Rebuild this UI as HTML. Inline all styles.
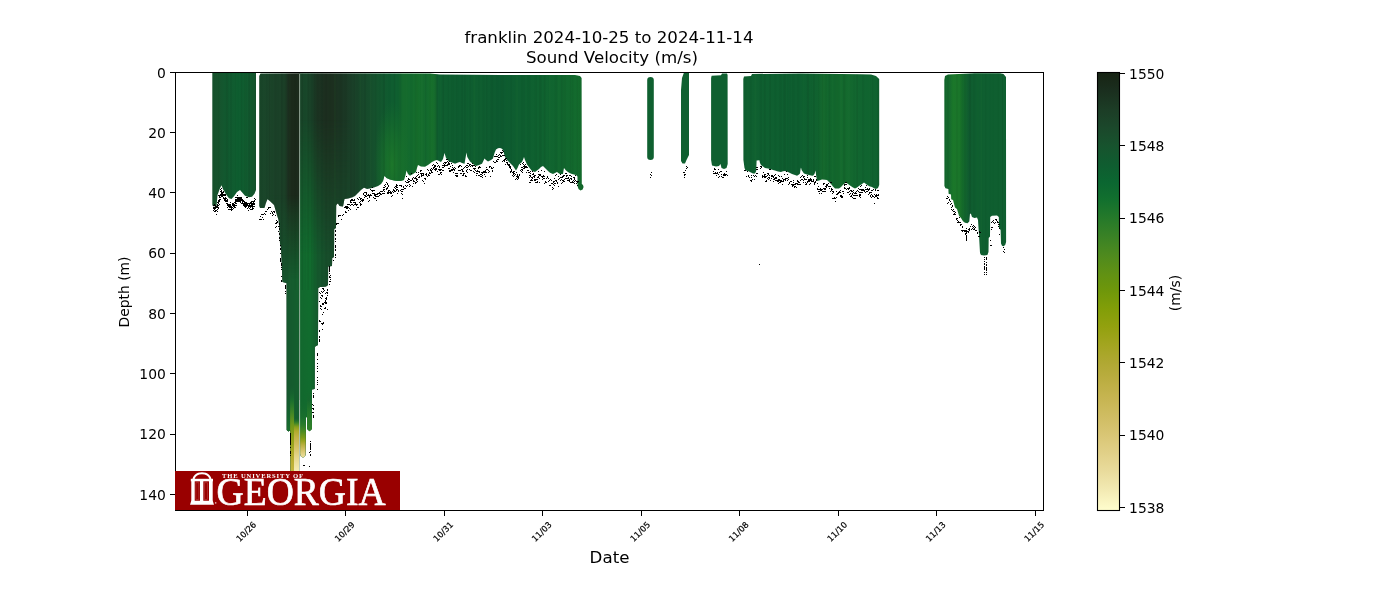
<!DOCTYPE html><html><head><meta charset="utf-8"><title>franklin Sound Velocity</title>
<style>html,body{margin:0;padding:0;background:#fff;}svg{display:block;}text{fill:#000;}</style></head><body>
<svg width="1400" height="600" viewBox="0 0 1400 600">
<defs><linearGradient id="gA" gradientUnits="userSpaceOnUse" x1="212" y1="0" x2="256" y2="0"><stop offset="0.0000" stop-color="#17522d"/><stop offset="0.1364" stop-color="#16532d"/><stop offset="0.2955" stop-color="#12582f"/><stop offset="0.5909" stop-color="#0e5e30"/><stop offset="0.8182" stop-color="#115a2f"/><stop offset="1.0000" stop-color="#15532d"/></linearGradient><linearGradient id="gB" gradientUnits="userSpaceOnUse" x1="259" y1="0" x2="582" y2="0"><stop offset="0.0000" stop-color="#19482a"/><stop offset="0.0341" stop-color="#1b4329"/><stop offset="0.0650" stop-color="#1b4128"/><stop offset="0.0805" stop-color="#1b3e26"/><stop offset="0.0867" stop-color="#1c3523"/><stop offset="0.0929" stop-color="#1b2b1d"/><stop offset="0.1022" stop-color="#1b291b"/><stop offset="0.1223" stop-color="#1b2a1c"/><stop offset="0.1285" stop-color="#194529"/><stop offset="0.1455" stop-color="#18482a"/><stop offset="0.1641" stop-color="#1a3f27"/><stop offset="0.1796" stop-color="#1b3422"/><stop offset="0.2043" stop-color="#1c2e1f"/><stop offset="0.2291" stop-color="#1c2f1f"/><stop offset="0.2446" stop-color="#1b3322"/><stop offset="0.2663" stop-color="#1b3825"/><stop offset="0.2879" stop-color="#1a3f28"/><stop offset="0.3127" stop-color="#18462a"/><stop offset="0.3437" stop-color="#164d2c"/><stop offset="0.3746" stop-color="#13562e"/><stop offset="0.4056" stop-color="#0f5c30"/><stop offset="0.4303" stop-color="#0f6030"/><stop offset="0.4458" stop-color="#156a2d"/><stop offset="0.4675" stop-color="#136a2e"/><stop offset="0.4923" stop-color="#166e2c"/><stop offset="0.5170" stop-color="#13692e"/><stop offset="0.5356" stop-color="#176f2c"/><stop offset="0.5464" stop-color="#15692d"/><stop offset="0.5526" stop-color="#0f5f30"/><stop offset="0.5666" stop-color="#0f5e30"/><stop offset="0.6223" stop-color="#0e5c30"/><stop offset="0.6842" stop-color="#0f5e30"/><stop offset="0.7461" stop-color="#0d5a30"/><stop offset="0.8080" stop-color="#0e5e30"/><stop offset="0.8700" stop-color="#0f6230"/><stop offset="0.9319" stop-color="#11662f"/><stop offset="1.0000" stop-color="#146c2d"/></linearGradient><linearGradient id="gC" gradientUnits="userSpaceOnUse" x1="743" y1="0" x2="879" y2="0"><stop offset="0.0000" stop-color="#0f6030"/><stop offset="0.4191" stop-color="#0e5e30"/><stop offset="0.5515" stop-color="#10622f"/><stop offset="0.5882" stop-color="#15692d"/><stop offset="0.6250" stop-color="#12672e"/><stop offset="0.7500" stop-color="#146a2e"/><stop offset="0.8603" stop-color="#116530"/><stop offset="1.0000" stop-color="#0f6230"/></linearGradient><linearGradient id="gD" gradientUnits="userSpaceOnUse" x1="944" y1="0" x2="1006" y2="0"><stop offset="0.0000" stop-color="#13682e"/><stop offset="0.0968" stop-color="#166c2d"/><stop offset="0.1452" stop-color="#1b772a"/><stop offset="0.2581" stop-color="#1a752a"/><stop offset="0.3226" stop-color="#13692d"/><stop offset="0.4032" stop-color="#0f5a2f"/><stop offset="0.4677" stop-color="#0f5e30"/><stop offset="1.0000" stop-color="#0f5f30"/></linearGradient><linearGradient id="gDeep" gradientUnits="userSpaceOnUse" x1="280" y1="0" x2="336" y2="0"><stop offset="0.0000" stop-color="#17502c"/><stop offset="0.1786" stop-color="#155a2e"/><stop offset="0.3393" stop-color="#14602e"/><stop offset="0.3661" stop-color="#12682e"/><stop offset="0.5357" stop-color="#116c2e"/><stop offset="0.6786" stop-color="#15582d"/><stop offset="0.8214" stop-color="#174e2b"/><stop offset="1.0000" stop-color="#184a2a"/></linearGradient><linearGradient id="mDeep" gradientUnits="userSpaceOnUse" x1="0" y1="150" x2="0" y2="480"><stop offset="0.0000" stop-color="#fff" stop-opacity="0"/><stop offset="0.1364" stop-color="#fff" stop-opacity="0.0"/><stop offset="0.1970" stop-color="#fff" stop-opacity="0.3"/><stop offset="0.3939" stop-color="#fff" stop-opacity="1"/><stop offset="1.0000" stop-color="#fff" stop-opacity="1"/></linearGradient><linearGradient id="mDeepR" gradientUnits="userSpaceOnUse" x1="0" y1="100" x2="0" y2="480"><stop offset="0.0000" stop-color="#fff" stop-opacity="0"/><stop offset="0.0526" stop-color="#fff" stop-opacity="0.0"/><stop offset="0.1579" stop-color="#fff" stop-opacity="0.3"/><stop offset="0.2632" stop-color="#fff" stop-opacity="0.6"/><stop offset="0.4079" stop-color="#fff" stop-opacity="1"/><stop offset="1.0000" stop-color="#fff" stop-opacity="1"/></linearGradient><mask id="mkDeepR" maskUnits="userSpaceOnUse" x="299.3" y="100" width="51" height="380"><rect x="299.3" y="100" width="51" height="380" fill="url(#mDeepR)"/></mask><mask id="mkDeep" maskUnits="userSpaceOnUse" x="270" y="140" width="80" height="340"><rect x="270" y="140" width="80" height="340" fill="url(#mDeep)"/></mask><radialGradient id="gPatch" gradientUnits="userSpaceOnUse" cx="392" cy="165" r="40" gradientTransform="translate(392 165) scale(0.45 1.6) translate(-392 -165)"><stop offset="0" stop-color="#1d782a" stop-opacity="0.95"/><stop offset="0.5" stop-color="#1a742b" stop-opacity="0.6"/><stop offset="1" stop-color="#17702c" stop-opacity="0"/></radialGradient><linearGradient id="gCB" gradientUnits="userSpaceOnUse" x1="0" y1="72" x2="0" y2="510"><stop offset="0.0000" stop-color="#172313"/><stop offset="0.0411" stop-color="#1a2e1e"/><stop offset="0.0868" stop-color="#1c3d26"/><stop offset="0.1279" stop-color="#1b482b"/><stop offset="0.1689" stop-color="#17532e"/><stop offset="0.2123" stop-color="#0f5d30"/><stop offset="0.2511" stop-color="#0b6631"/><stop offset="0.2922" stop-color="#12702e"/><stop offset="0.3333" stop-color="#25792a"/><stop offset="0.3767" stop-color="#3a8225"/><stop offset="0.4178" stop-color="#4e8a1e"/><stop offset="0.4589" stop-color="#609114"/><stop offset="0.5000" stop-color="#6f970a"/><stop offset="0.5411" stop-color="#829e08"/><stop offset="0.5822" stop-color="#93a10f"/><stop offset="0.6233" stop-color="#a3a520"/><stop offset="0.6644" stop-color="#b0a833"/><stop offset="0.7055" stop-color="#bcae42"/><stop offset="0.7466" stop-color="#c7b552"/><stop offset="0.7877" stop-color="#d0bd63"/><stop offset="0.8288" stop-color="#d9c675"/><stop offset="0.8699" stop-color="#e1d088"/><stop offset="0.9110" stop-color="#e9db9c"/><stop offset="0.9521" stop-color="#f2e9b2"/><stop offset="1.0000" stop-color="#fffdcd"/></linearGradient><linearGradient id="gS1" gradientUnits="userSpaceOnUse" x1="0" y1="385" x2="0" y2="472"><stop offset="0.0000" stop-color="#14602f" stop-opacity="0"/><stop offset="0.1724" stop-color="#1a6e2e"/><stop offset="0.2414" stop-color="#2a7a2a"/><stop offset="0.3161" stop-color="#3f8526"/><stop offset="0.3908" stop-color="#5a9020"/><stop offset="0.4598" stop-color="#70981a"/><stop offset="0.5287" stop-color="#7e9c18"/><stop offset="0.6034" stop-color="#8ea018"/><stop offset="0.6782" stop-color="#9aa41c"/><stop offset="0.7471" stop-color="#a8a824"/><stop offset="0.8161" stop-color="#b4ac2c"/><stop offset="0.8908" stop-color="#bcb034"/><stop offset="1.0000" stop-color="#c6b640"/></linearGradient><linearGradient id="gS2" gradientUnits="userSpaceOnUse" x1="0" y1="400" x2="0" y2="472"><stop offset="0.0000" stop-color="#12652f" stop-opacity="0"/><stop offset="0.2500" stop-color="#12652f" stop-opacity="0.2"/><stop offset="0.3194" stop-color="#3a8426"/><stop offset="0.3750" stop-color="#8aa01c"/><stop offset="0.4306" stop-color="#b0aa2c"/><stop offset="0.5208" stop-color="#c4b448"/><stop offset="0.6111" stop-color="#d0bc5c"/><stop offset="0.6944" stop-color="#dac870"/><stop offset="0.7778" stop-color="#e4d488"/><stop offset="0.8681" stop-color="#ecdf9c"/><stop offset="1.0000" stop-color="#f6edb6"/></linearGradient><linearGradient id="gS3" gradientUnits="userSpaceOnUse" x1="0" y1="400" x2="0" y2="458"><stop offset="0.0000" stop-color="#14682e" stop-opacity="0"/><stop offset="0.3103" stop-color="#1a702d"/><stop offset="0.4310" stop-color="#2a7c2a"/><stop offset="0.5345" stop-color="#4a8a22"/><stop offset="0.6466" stop-color="#7a9a18"/><stop offset="0.7069" stop-color="#9aa41e"/><stop offset="0.7759" stop-color="#bab040"/><stop offset="0.8621" stop-color="#d4c268"/><stop offset="0.9310" stop-color="#e4d488"/><stop offset="1.0000" stop-color="#ecdf9c"/></linearGradient><linearGradient id="gS4" gradientUnits="userSpaceOnUse" x1="0" y1="390" x2="0" y2="432"><stop offset="0.0000" stop-color="#15682e" stop-opacity="0"/><stop offset="0.2381" stop-color="#15682e"/><stop offset="0.5238" stop-color="#22782b"/><stop offset="0.8333" stop-color="#2e7f29"/><stop offset="1.0000" stop-color="#34832a"/></linearGradient><linearGradient id="gS0" gradientUnits="userSpaceOnUse" x1="0" y1="395" x2="0" y2="432"><stop offset="0.0000" stop-color="#14602f" stop-opacity="0"/><stop offset="0.6216" stop-color="#14652e"/><stop offset="0.9730" stop-color="#1a6e2d"/></linearGradient><clipPath id="cpB"><path d="M259.2 76.0 L260.5 73.6 L300.0 73.3 L430.0 73.6 L440.0 74.5 L500.0 75.0 L575.0 75.0 L580.0 76.0 L581.6 78.0 L581.8 184.0 L583.0 185.0 L583.6 187.0 L582.6 189.4 L580.5 190.6 L578.5 189.0 L577.5 186.0 L577.5 176.5 L576.0 175.0 L574.0 174.6 L572.0 174.0 L570.0 173.3 L568.0 172.0 L566.0 170.5 L564.0 168.0 L563.6 170.0 L563.0 174.0 L560.0 174.0 L559.0 173.5 L557.0 172.0 L555.0 173.0 L553.0 174.0 L550.0 172.7 L548.0 171.0 L546.0 169.0 L545.0 168.0 L543.0 166.0 L541.0 167.0 L539.0 169.0 L537.0 170.5 L535.0 172.0 L532.0 171.0 L530.0 168.5 L527.0 164.5 L525.0 160.0 L524.0 157.0 L523.3 159.0 L522.0 162.0 L519.0 164.5 L517.5 168.0 L516.0 170.5 L513.0 166.0 L511.0 164.0 L509.0 162.0 L507.0 160.0 L505.0 157.0 L503.0 150.0 L502.0 148.8 L500.0 148.0 L498.0 148.3 L496.0 149.5 L494.5 153.0 L493.0 158.5 L491.0 160.0 L488.0 161.5 L486.0 160.0 L484.5 158.5 L482.0 163.7 L479.0 165.0 L476.0 166.0 L473.0 164.0 L470.0 161.5 L467.3 157.0 L466.4 152.5 L465.7 157.0 L464.5 163.7 L462.0 163.0 L460.0 162.0 L458.0 162.5 L455.0 163.7 L452.0 162.5 L449.0 161.5 L446.0 158.0 L444.5 153.0 L443.0 159.0 L441.0 162.0 L439.0 161.0 L437.0 160.0 L435.0 160.5 L432.0 162.0 L428.0 165.0 L425.0 166.7 L421.0 166.5 L418.0 165.0 L417.0 168.0 L416.0 172.0 L413.0 174.0 L410.0 175.7 L408.0 174.0 L406.5 170.5 L405.5 175.0 L404.0 180.0 L401.0 181.0 L397.0 181.0 L394.0 180.5 L390.0 179.5 L386.5 178.0 L384.5 175.7 L383.0 181.0 L381.0 184.0 L378.0 186.0 L374.0 187.5 L370.0 188.5 L367.0 189.0 L364.0 187.8 L361.0 190.0 L358.0 193.0 L355.0 196.0 L352.0 197.5 L348.0 198.5 L344.5 199.0 L343.0 206.5 L339.5 206.0 L338.0 203.5 L337.0 204.0 L336.2 205.5 L336.0 228.0 L334.2 229.0 L334.0 257.0 L332.2 258.0 L332.0 266.0 L328.2 266.5 L328.0 285.0 L326.0 286.5 L320.0 287.0 L318.2 288.0 L318.0 345.0 L316.0 346.0 L314.8 347.0 L314.7 389.0 L312.0 389.5 L311.9 429.0 L309.5 431.3 L307.2 429.0 L307.0 417.0 L305.9 417.5 L305.7 454.0 L305.0 456.5 L303.0 457.6 L301.0 456.5 L300.2 454.0 L300.0 400.0 L299.3 400.0 L299.2 472.0 L290.4 472.0 L290.3 430.0 L288.5 431.5 L286.7 430.0 L286.6 283.0 L282.5 282.0 L281.0 248.0 L280.0 244.0 L279.5 230.0 L278.5 220.0 L276.0 212.0 L274.0 205.0 L270.0 201.3 L267.5 199.2 L266.0 203.0 L264.5 208.0 L260.0 208.0 L259.2 206.0Z"/></clipPath><clipPath id="cpAll"><path d="M212.3 72.6 L256.0 72.6 L256.0 190.0 L254.5 193.7 L252.0 196.7 L249.0 197.3 L245.0 195.7 L242.0 192.3 L240.0 190.0 L237.0 192.0 L234.0 196.3 L231.5 199.0 L229.0 198.3 L226.0 194.3 L223.0 189.3 L221.5 185.3 L220.0 188.3 L217.5 195.0 L216.5 206.3 L213.0 206.3 L212.3 205.0Z M259.2 76.0 L260.5 73.6 L300.0 73.3 L430.0 73.6 L440.0 74.5 L500.0 75.0 L575.0 75.0 L580.0 76.0 L581.6 78.0 L581.8 184.0 L583.0 185.0 L583.6 187.0 L582.6 189.4 L580.5 190.6 L578.5 189.0 L577.5 186.0 L577.5 176.5 L576.0 175.0 L574.0 174.6 L572.0 174.0 L570.0 173.3 L568.0 172.0 L566.0 170.5 L564.0 168.0 L563.6 170.0 L563.0 174.0 L560.0 174.0 L559.0 173.5 L557.0 172.0 L555.0 173.0 L553.0 174.0 L550.0 172.7 L548.0 171.0 L546.0 169.0 L545.0 168.0 L543.0 166.0 L541.0 167.0 L539.0 169.0 L537.0 170.5 L535.0 172.0 L532.0 171.0 L530.0 168.5 L527.0 164.5 L525.0 160.0 L524.0 157.0 L523.3 159.0 L522.0 162.0 L519.0 164.5 L517.5 168.0 L516.0 170.5 L513.0 166.0 L511.0 164.0 L509.0 162.0 L507.0 160.0 L505.0 157.0 L503.0 150.0 L502.0 148.8 L500.0 148.0 L498.0 148.3 L496.0 149.5 L494.5 153.0 L493.0 158.5 L491.0 160.0 L488.0 161.5 L486.0 160.0 L484.5 158.5 L482.0 163.7 L479.0 165.0 L476.0 166.0 L473.0 164.0 L470.0 161.5 L467.3 157.0 L466.4 152.5 L465.7 157.0 L464.5 163.7 L462.0 163.0 L460.0 162.0 L458.0 162.5 L455.0 163.7 L452.0 162.5 L449.0 161.5 L446.0 158.0 L444.5 153.0 L443.0 159.0 L441.0 162.0 L439.0 161.0 L437.0 160.0 L435.0 160.5 L432.0 162.0 L428.0 165.0 L425.0 166.7 L421.0 166.5 L418.0 165.0 L417.0 168.0 L416.0 172.0 L413.0 174.0 L410.0 175.7 L408.0 174.0 L406.5 170.5 L405.5 175.0 L404.0 180.0 L401.0 181.0 L397.0 181.0 L394.0 180.5 L390.0 179.5 L386.5 178.0 L384.5 175.7 L383.0 181.0 L381.0 184.0 L378.0 186.0 L374.0 187.5 L370.0 188.5 L367.0 189.0 L364.0 187.8 L361.0 190.0 L358.0 193.0 L355.0 196.0 L352.0 197.5 L348.0 198.5 L344.5 199.0 L343.0 206.5 L339.5 206.0 L338.0 203.5 L337.0 204.0 L336.2 205.5 L336.0 228.0 L334.2 229.0 L334.0 257.0 L332.2 258.0 L332.0 266.0 L328.2 266.5 L328.0 285.0 L326.0 286.5 L320.0 287.0 L318.2 288.0 L318.0 345.0 L316.0 346.0 L314.8 347.0 L314.7 389.0 L312.0 389.5 L311.9 429.0 L309.5 431.3 L307.2 429.0 L307.0 417.0 L305.9 417.5 L305.7 454.0 L305.0 456.5 L303.0 457.6 L301.0 456.5 L300.2 454.0 L300.0 400.0 L299.3 400.0 L299.2 472.0 L290.4 472.0 L290.3 430.0 L288.5 431.5 L286.7 430.0 L286.6 283.0 L282.5 282.0 L281.0 248.0 L280.0 244.0 L279.5 230.0 L278.5 220.0 L276.0 212.0 L274.0 205.0 L270.0 201.3 L267.5 199.2 L266.0 203.0 L264.5 208.0 L260.0 208.0 L259.2 206.0Z M743.3 79.0 L744.0 76.5 L751.0 76.0 L752.0 74.0 L800.0 73.4 L860.0 74.2 L871.0 74.6 L876.0 76.0 L879.2 79.0 L879.2 185.0 L878.0 188.0 L876.0 189.0 L874.0 188.2 L872.0 187.0 L870.0 186.5 L868.0 185.5 L866.0 184.0 L864.0 182.5 L862.0 184.0 L859.0 186.0 L857.0 187.5 L855.0 188.5 L853.0 187.5 L850.0 185.5 L848.0 184.0 L846.0 182.5 L843.0 184.7 L841.0 187.0 L839.0 188.5 L835.0 188.5 L833.0 186.5 L831.0 184.0 L829.0 182.0 L827.0 180.0 L825.0 179.7 L822.0 179.5 L819.0 180.5 L817.0 181.0 L816.2 176.0 L815.5 170.5 L814.5 174.0 L813.0 175.7 L811.0 175.5 L809.0 175.0 L807.0 174.5 L804.0 173.5 L801.6 170.0 L801.0 167.5 L800.6 169.0 L800.0 173.5 L799.0 174.5 L797.0 175.7 L795.0 175.0 L792.0 174.0 L790.0 173.0 L788.0 172.0 L785.0 171.0 L783.0 171.3 L781.0 172.0 L778.0 171.5 L775.0 170.5 L773.0 170.0 L770.0 169.0 L768.0 168.5 L765.0 168.0 L763.0 166.5 L761.0 165.0 L760.0 163.0 L759.4 160.3 L756.6 160.5 L756.2 171.0 L755.0 173.5 L753.0 173.5 L751.0 172.5 L748.0 171.0 L745.5 170.5 L744.5 168.0 L743.4 160.0Z M944.3 80.0 L945.0 76.0 L948.0 74.6 L975.0 73.2 L1000.0 73.2 L1003.5 74.0 L1006.0 77.0 L1006.1 242.0 L1005.2 245.0 L1003.5 246.2 L1002.0 245.8 L1001.0 243.5 L1000.6 230.0 L999.0 228.0 L998.8 217.0 L997.0 215.5 L992.0 215.8 L990.2 217.0 L990.0 236.5 L988.7 238.0 L988.5 252.0 L987.4 255.0 L984.0 255.6 L981.0 255.0 L980.0 253.0 L979.0 235.0 L978.0 220.0 L977.0 217.5 L974.5 217.9 L972.0 217.0 L971.0 214.0 L970.0 213.5 L969.3 221.5 L967.5 223.2 L965.0 222.7 L963.0 221.3 L961.0 218.0 L959.0 215.8 L957.0 209.0 L955.0 207.6 L953.0 200.0 L951.2 199.3 L951.0 194.5 L948.6 193.8 L948.4 189.0 L945.5 188.3 L944.4 186.0Z"/></clipPath><clipPath id="cpAx"><rect x="175.5" y="72.5" width="868" height="438"/></clipPath></defs>
<rect width="1400" height="600" fill="#fff"/>
<g clip-path="url(#cpAx)">
<path d="M212.3 72.6 L256.0 72.6 L256.0 190.0 L254.5 193.7 L252.0 196.7 L249.0 197.3 L245.0 195.7 L242.0 192.3 L240.0 190.0 L237.0 192.0 L234.0 196.3 L231.5 199.0 L229.0 198.3 L226.0 194.3 L223.0 189.3 L221.5 185.3 L220.0 188.3 L217.5 195.0 L216.5 206.3 L213.0 206.3 L212.3 205.0Z" fill="url(#gA)"/>
<path d="M259.2 76.0 L260.5 73.6 L300.0 73.3 L430.0 73.6 L440.0 74.5 L500.0 75.0 L575.0 75.0 L580.0 76.0 L581.6 78.0 L581.8 184.0 L583.0 185.0 L583.6 187.0 L582.6 189.4 L580.5 190.6 L578.5 189.0 L577.5 186.0 L577.5 176.5 L576.0 175.0 L574.0 174.6 L572.0 174.0 L570.0 173.3 L568.0 172.0 L566.0 170.5 L564.0 168.0 L563.6 170.0 L563.0 174.0 L560.0 174.0 L559.0 173.5 L557.0 172.0 L555.0 173.0 L553.0 174.0 L550.0 172.7 L548.0 171.0 L546.0 169.0 L545.0 168.0 L543.0 166.0 L541.0 167.0 L539.0 169.0 L537.0 170.5 L535.0 172.0 L532.0 171.0 L530.0 168.5 L527.0 164.5 L525.0 160.0 L524.0 157.0 L523.3 159.0 L522.0 162.0 L519.0 164.5 L517.5 168.0 L516.0 170.5 L513.0 166.0 L511.0 164.0 L509.0 162.0 L507.0 160.0 L505.0 157.0 L503.0 150.0 L502.0 148.8 L500.0 148.0 L498.0 148.3 L496.0 149.5 L494.5 153.0 L493.0 158.5 L491.0 160.0 L488.0 161.5 L486.0 160.0 L484.5 158.5 L482.0 163.7 L479.0 165.0 L476.0 166.0 L473.0 164.0 L470.0 161.5 L467.3 157.0 L466.4 152.5 L465.7 157.0 L464.5 163.7 L462.0 163.0 L460.0 162.0 L458.0 162.5 L455.0 163.7 L452.0 162.5 L449.0 161.5 L446.0 158.0 L444.5 153.0 L443.0 159.0 L441.0 162.0 L439.0 161.0 L437.0 160.0 L435.0 160.5 L432.0 162.0 L428.0 165.0 L425.0 166.7 L421.0 166.5 L418.0 165.0 L417.0 168.0 L416.0 172.0 L413.0 174.0 L410.0 175.7 L408.0 174.0 L406.5 170.5 L405.5 175.0 L404.0 180.0 L401.0 181.0 L397.0 181.0 L394.0 180.5 L390.0 179.5 L386.5 178.0 L384.5 175.7 L383.0 181.0 L381.0 184.0 L378.0 186.0 L374.0 187.5 L370.0 188.5 L367.0 189.0 L364.0 187.8 L361.0 190.0 L358.0 193.0 L355.0 196.0 L352.0 197.5 L348.0 198.5 L344.5 199.0 L343.0 206.5 L339.5 206.0 L338.0 203.5 L337.0 204.0 L336.2 205.5 L336.0 228.0 L334.2 229.0 L334.0 257.0 L332.2 258.0 L332.0 266.0 L328.2 266.5 L328.0 285.0 L326.0 286.5 L320.0 287.0 L318.2 288.0 L318.0 345.0 L316.0 346.0 L314.8 347.0 L314.7 389.0 L312.0 389.5 L311.9 429.0 L309.5 431.3 L307.2 429.0 L307.0 417.0 L305.9 417.5 L305.7 454.0 L305.0 456.5 L303.0 457.6 L301.0 456.5 L300.2 454.0 L300.0 400.0 L299.3 400.0 L299.2 472.0 L290.4 472.0 L290.3 430.0 L288.5 431.5 L286.7 430.0 L286.6 283.0 L282.5 282.0 L281.0 248.0 L280.0 244.0 L279.5 230.0 L278.5 220.0 L276.0 212.0 L274.0 205.0 L270.0 201.3 L267.5 199.2 L266.0 203.0 L264.5 208.0 L260.0 208.0 L259.2 206.0Z" fill="url(#gB)"/>
<g clip-path="url(#cpB)">
<rect x="270" y="140" width="29.3" height="340" fill="url(#gDeep)" mask="url(#mkDeep)"/>
<rect x="299.3" y="100" width="51" height="380" fill="url(#gDeep)" mask="url(#mkDeepR)"/>
<rect x="350" y="90" width="90" height="110" fill="url(#gPatch)"/>
<rect x="286.6" y="395" width="3.6" height="40" fill="url(#gS0)"/>
<rect x="290.1" y="385" width="4" height="90" fill="url(#gS1)"/>
<rect x="294" y="400" width="5.4" height="75" fill="url(#gS2)"/>
<rect x="300" y="400" width="5.9" height="60" fill="url(#gS3)"/>
<rect x="306.9" y="390" width="5.2" height="45" fill="url(#gS4)"/>
<rect x="299.2" y="74" width="0.9" height="400" fill="#dfe8df" opacity="0.7"/>
</g>
<path d="M647.2 80 Q647.2 76.9 650.5 76.9 Q653.8 76.9 653.8 80 L653.8 157 Q653.8 160 650.5 160 Q647.2 160 647.2 157Z" fill="#0f6030"/>
<path d="M681.0 90.0 L682.0 78.0 L684.0 72.6 L689.0 72.6 L689.0 155.0 L686.5 160.0 L685.0 163.5 L682.5 163.5 L681.0 161.0Z" fill="#0f6030"/>
<path d="M711.1 78.0 L711.6 75.8 L721.0 75.2 L722.0 73.6 L727.0 73.4 L727.6 75.0 L727.7 164.0 L726.5 168.0 L724.0 169.0 L721.5 168.0 L720.5 164.0 L719.0 166.0 L716.0 166.5 L712.0 165.5 L711.1 160.0Z" fill="#0f6030"/>
<path d="M743.3 79.0 L744.0 76.5 L751.0 76.0 L752.0 74.0 L800.0 73.4 L860.0 74.2 L871.0 74.6 L876.0 76.0 L879.2 79.0 L879.2 185.0 L878.0 188.0 L876.0 189.0 L874.0 188.2 L872.0 187.0 L870.0 186.5 L868.0 185.5 L866.0 184.0 L864.0 182.5 L862.0 184.0 L859.0 186.0 L857.0 187.5 L855.0 188.5 L853.0 187.5 L850.0 185.5 L848.0 184.0 L846.0 182.5 L843.0 184.7 L841.0 187.0 L839.0 188.5 L835.0 188.5 L833.0 186.5 L831.0 184.0 L829.0 182.0 L827.0 180.0 L825.0 179.7 L822.0 179.5 L819.0 180.5 L817.0 181.0 L816.2 176.0 L815.5 170.5 L814.5 174.0 L813.0 175.7 L811.0 175.5 L809.0 175.0 L807.0 174.5 L804.0 173.5 L801.6 170.0 L801.0 167.5 L800.6 169.0 L800.0 173.5 L799.0 174.5 L797.0 175.7 L795.0 175.0 L792.0 174.0 L790.0 173.0 L788.0 172.0 L785.0 171.0 L783.0 171.3 L781.0 172.0 L778.0 171.5 L775.0 170.5 L773.0 170.0 L770.0 169.0 L768.0 168.5 L765.0 168.0 L763.0 166.5 L761.0 165.0 L760.0 163.0 L759.4 160.3 L756.6 160.5 L756.2 171.0 L755.0 173.5 L753.0 173.5 L751.0 172.5 L748.0 171.0 L745.5 170.5 L744.5 168.0 L743.4 160.0Z" fill="url(#gC)"/>
<path d="M944.3 80.0 L945.0 76.0 L948.0 74.6 L975.0 73.2 L1000.0 73.2 L1003.5 74.0 L1006.0 77.0 L1006.1 242.0 L1005.2 245.0 L1003.5 246.2 L1002.0 245.8 L1001.0 243.5 L1000.6 230.0 L999.0 228.0 L998.8 217.0 L997.0 215.5 L992.0 215.8 L990.2 217.0 L990.0 236.5 L988.7 238.0 L988.5 252.0 L987.4 255.0 L984.0 255.6 L981.0 255.0 L980.0 253.0 L979.0 235.0 L978.0 220.0 L977.0 217.5 L974.5 217.9 L972.0 217.0 L971.0 214.0 L970.0 213.5 L969.3 221.5 L967.5 223.2 L965.0 222.7 L963.0 221.3 L961.0 218.0 L959.0 215.8 L957.0 209.0 L955.0 207.6 L953.0 200.0 L951.2 199.3 L951.0 194.5 L948.6 193.8 L948.4 189.0 L945.5 188.3 L944.4 186.0Z" fill="url(#gD)"/>
<g clip-path="url(#cpAll)"><rect x="213.0" y="73" width="1.6" height="134" fill="#0a3a1a" opacity="0.04"/><rect x="218.1" y="73" width="1.1" height="134" fill="#0a3a1a" opacity="0.05"/><rect x="222.5" y="73" width="1.0" height="134" fill="#3c9a3c" opacity="0.03"/><rect x="225.9" y="73" width="2.4" height="134" fill="#000" opacity="0.05"/><rect x="230.2" y="73" width="1.6" height="134" fill="#000" opacity="0.05"/><rect x="235.2" y="73" width="0.9" height="134" fill="#000" opacity="0.03"/><rect x="237.5" y="73" width="0.9" height="134" fill="#0a3a1a" opacity="0.04"/><rect x="240.9" y="73" width="1.2" height="134" fill="#000" opacity="0.05"/><rect x="244.3" y="73" width="2.0" height="134" fill="#0a3a1a" opacity="0.05"/><rect x="248.2" y="73" width="1.8" height="134" fill="#000" opacity="0.06"/><rect x="251.6" y="73" width="1.2" height="134" fill="#3c9a3c" opacity="0.02"/><rect x="255.3" y="73" width="1.0" height="134" fill="#000" opacity="0.06"/><rect x="260.0" y="73" width="2.5" height="217" fill="#000" opacity="0.03"/><rect x="266.3" y="73" width="0.9" height="217" fill="#0a3a1a" opacity="0.07"/><rect x="269.1" y="73" width="0.9" height="217" fill="#000" opacity="0.06"/><rect x="271.4" y="73" width="1.0" height="217" fill="#3c9a3c" opacity="0.02"/><rect x="274.3" y="73" width="2.5" height="217" fill="#000" opacity="0.03"/><rect x="277.6" y="73" width="0.9" height="217" fill="#0a3a1a" opacity="0.03"/><rect x="281.0" y="73" width="1.6" height="217" fill="#000" opacity="0.07"/><rect x="285.8" y="73" width="1.6" height="217" fill="#0a3a1a" opacity="0.03"/><rect x="289.3" y="73" width="1.2" height="217" fill="#3c9a3c" opacity="0.06"/><rect x="294.4" y="73" width="1.9" height="217" fill="#000" opacity="0.03"/><rect x="298.2" y="73" width="2.3" height="217" fill="#000" opacity="0.02"/><rect x="301.5" y="73" width="1.6" height="217" fill="#000" opacity="0.06"/><rect x="304.8" y="73" width="1.3" height="217" fill="#000" opacity="0.02"/><rect x="307.3" y="73" width="1.9" height="217" fill="#000" opacity="0.05"/><rect x="311.1" y="73" width="1.6" height="217" fill="#0a3a1a" opacity="0.06"/><rect x="313.7" y="73" width="1.5" height="217" fill="#000" opacity="0.04"/><rect x="316.5" y="73" width="1.9" height="217" fill="#000" opacity="0.03"/><rect x="321.1" y="73" width="1.8" height="217" fill="#0a3a1a" opacity="0.06"/><rect x="325.5" y="73" width="1.6" height="217" fill="#000" opacity="0.03"/><rect x="329.3" y="73" width="1.3" height="217" fill="#0a3a1a" opacity="0.03"/><rect x="334.0" y="73" width="1.9" height="217" fill="#3c9a3c" opacity="0.05"/><rect x="339.6" y="73" width="2.6" height="217" fill="#000" opacity="0.03"/><rect x="344.6" y="73" width="2.3" height="217" fill="#000" opacity="0.03"/><rect x="350.7" y="73" width="1.2" height="217" fill="#000" opacity="0.02"/><rect x="353.8" y="73" width="1.2" height="217" fill="#000" opacity="0.03"/><rect x="356.8" y="73" width="1.8" height="217" fill="#000" opacity="0.02"/><rect x="359.6" y="73" width="1.6" height="217" fill="#3c9a3c" opacity="0.05"/><rect x="364.1" y="73" width="1.9" height="217" fill="#000" opacity="0.05"/><rect x="369.7" y="73" width="1.7" height="217" fill="#3c9a3c" opacity="0.06"/><rect x="375.3" y="73" width="0.8" height="217" fill="#000" opacity="0.04"/><rect x="379.1" y="73" width="1.4" height="217" fill="#000" opacity="0.02"/><rect x="382.9" y="73" width="2.1" height="217" fill="#000" opacity="0.06"/><rect x="388.8" y="73" width="1.4" height="217" fill="#0a3a1a" opacity="0.07"/><rect x="393.7" y="73" width="1.6" height="217" fill="#000" opacity="0.06"/><rect x="397.8" y="73" width="1.9" height="217" fill="#0a3a1a" opacity="0.04"/><rect x="400.3" y="73" width="0.9" height="217" fill="#000" opacity="0.05"/><rect x="405.2" y="73" width="2.4" height="217" fill="#3c9a3c" opacity="0.04"/><rect x="410.6" y="73" width="1.8" height="217" fill="#0a3a1a" opacity="0.04"/><rect x="414.9" y="73" width="1.7" height="217" fill="#000" opacity="0.04"/><rect x="417.4" y="73" width="0.8" height="217" fill="#000" opacity="0.04"/><rect x="420.9" y="73" width="2.5" height="217" fill="#3c9a3c" opacity="0.06"/><rect x="425.1" y="73" width="1.1" height="217" fill="#000" opacity="0.05"/><rect x="429.3" y="73" width="1.4" height="217" fill="#0a3a1a" opacity="0.04"/><rect x="432.1" y="73" width="1.5" height="217" fill="#3c9a3c" opacity="0.03"/><rect x="435.6" y="73" width="2.3" height="217" fill="#000" opacity="0.06"/><rect x="439.7" y="73" width="1.8" height="217" fill="#3c9a3c" opacity="0.03"/><rect x="442.6" y="73" width="1.4" height="217" fill="#000" opacity="0.06"/><rect x="447.8" y="73" width="1.3" height="217" fill="#000" opacity="0.03"/><rect x="451.3" y="73" width="2.5" height="217" fill="#0a3a1a" opacity="0.04"/><rect x="456.1" y="73" width="2.0" height="217" fill="#0a3a1a" opacity="0.04"/><rect x="461.5" y="73" width="1.3" height="217" fill="#000" opacity="0.05"/><rect x="464.2" y="73" width="1.4" height="217" fill="#000" opacity="0.05"/><rect x="467.6" y="73" width="1.1" height="217" fill="#3c9a3c" opacity="0.03"/><rect x="469.7" y="73" width="0.9" height="217" fill="#000" opacity="0.04"/><rect x="473.3" y="73" width="2.0" height="217" fill="#3c9a3c" opacity="0.07"/><rect x="478.2" y="73" width="1.2" height="217" fill="#0a3a1a" opacity="0.03"/><rect x="482.4" y="73" width="2.2" height="217" fill="#000" opacity="0.03"/><rect x="486.0" y="73" width="1.4" height="217" fill="#000" opacity="0.04"/><rect x="490.7" y="73" width="2.4" height="217" fill="#000" opacity="0.04"/><rect x="496.7" y="73" width="1.5" height="217" fill="#0a3a1a" opacity="0.04"/><rect x="500.9" y="73" width="2.4" height="217" fill="#0a3a1a" opacity="0.05"/><rect x="506.1" y="73" width="1.7" height="217" fill="#3c9a3c" opacity="0.04"/><rect x="510.6" y="73" width="1.2" height="217" fill="#000" opacity="0.03"/><rect x="515.4" y="73" width="2.6" height="217" fill="#3c9a3c" opacity="0.05"/><rect x="521.3" y="73" width="1.4" height="217" fill="#000" opacity="0.04"/><rect x="523.4" y="73" width="1.6" height="217" fill="#0a3a1a" opacity="0.06"/><rect x="527.2" y="73" width="0.9" height="217" fill="#000" opacity="0.04"/><rect x="528.7" y="73" width="1.8" height="217" fill="#000" opacity="0.04"/><rect x="534.5" y="73" width="2.4" height="217" fill="#0a3a1a" opacity="0.07"/><rect x="539.1" y="73" width="2.5" height="217" fill="#000" opacity="0.06"/><rect x="543.7" y="73" width="1.8" height="217" fill="#000" opacity="0.05"/><rect x="548.9" y="73" width="1.8" height="217" fill="#3c9a3c" opacity="0.05"/><rect x="554.6" y="73" width="2.4" height="217" fill="#000" opacity="0.04"/><rect x="557.9" y="73" width="1.8" height="217" fill="#3c9a3c" opacity="0.05"/><rect x="560.9" y="73" width="1.8" height="217" fill="#000" opacity="0.05"/><rect x="563.3" y="73" width="2.5" height="217" fill="#0a3a1a" opacity="0.05"/><rect x="569.8" y="73" width="1.0" height="217" fill="#000" opacity="0.05"/><rect x="571.5" y="73" width="1.8" height="217" fill="#0a3a1a" opacity="0.07"/><rect x="576.6" y="73" width="1.5" height="217" fill="#000" opacity="0.04"/><rect x="579.1" y="73" width="1.6" height="217" fill="#0a3a1a" opacity="0.05"/><rect x="581.5" y="73" width="1.6" height="217" fill="#000" opacity="0.07"/><rect x="744.0" y="73" width="2.2" height="117" fill="#000" opacity="0.02"/><rect x="747.2" y="73" width="0.8" height="117" fill="#3c9a3c" opacity="0.04"/><rect x="749.8" y="73" width="1.9" height="117" fill="#000" opacity="0.04"/><rect x="754.3" y="73" width="2.3" height="117" fill="#3c9a3c" opacity="0.06"/><rect x="759.6" y="73" width="2.4" height="117" fill="#000" opacity="0.04"/><rect x="763.9" y="73" width="1.8" height="117" fill="#000" opacity="0.05"/><rect x="769.2" y="73" width="1.8" height="117" fill="#000" opacity="0.05"/><rect x="774.4" y="73" width="1.9" height="117" fill="#000" opacity="0.03"/><rect x="779.4" y="73" width="2.3" height="117" fill="#000" opacity="0.04"/><rect x="783.3" y="73" width="2.5" height="117" fill="#000" opacity="0.06"/><rect x="786.9" y="73" width="1.0" height="117" fill="#000" opacity="0.03"/><rect x="788.7" y="73" width="1.5" height="117" fill="#0a3a1a" opacity="0.06"/><rect x="792.2" y="73" width="2.2" height="117" fill="#000" opacity="0.03"/><rect x="797.1" y="73" width="2.2" height="117" fill="#000" opacity="0.03"/><rect x="802.2" y="73" width="2.4" height="117" fill="#3c9a3c" opacity="0.03"/><rect x="806.9" y="73" width="2.2" height="117" fill="#000" opacity="0.06"/><rect x="811.3" y="73" width="0.8" height="117" fill="#0a3a1a" opacity="0.03"/><rect x="813.3" y="73" width="1.2" height="117" fill="#000" opacity="0.07"/><rect x="818.2" y="73" width="1.0" height="117" fill="#000" opacity="0.03"/><rect x="822.0" y="73" width="0.9" height="117" fill="#000" opacity="0.04"/><rect x="825.1" y="73" width="1.7" height="117" fill="#0a3a1a" opacity="0.03"/><rect x="828.6" y="73" width="1.9" height="117" fill="#000" opacity="0.06"/><rect x="831.7" y="73" width="1.6" height="117" fill="#3c9a3c" opacity="0.04"/><rect x="834.5" y="73" width="1.1" height="117" fill="#000" opacity="0.04"/><rect x="836.4" y="73" width="2.3" height="117" fill="#0a3a1a" opacity="0.05"/><rect x="839.9" y="73" width="1.9" height="117" fill="#3c9a3c" opacity="0.06"/><rect x="843.1" y="73" width="2.4" height="117" fill="#000" opacity="0.06"/><rect x="847.5" y="73" width="2.4" height="117" fill="#3c9a3c" opacity="0.06"/><rect x="853.1" y="73" width="1.5" height="117" fill="#000" opacity="0.02"/><rect x="856.3" y="73" width="1.6" height="117" fill="#000" opacity="0.06"/><rect x="861.9" y="73" width="2.4" height="117" fill="#000" opacity="0.03"/><rect x="868.2" y="73" width="2.0" height="117" fill="#3c9a3c" opacity="0.03"/><rect x="872.1" y="73" width="1.1" height="117" fill="#000" opacity="0.04"/><rect x="877.2" y="73" width="2.0" height="117" fill="#000" opacity="0.06"/><rect x="945.0" y="73" width="0.8" height="183" fill="#000" opacity="0.06"/><rect x="947.2" y="73" width="1.5" height="183" fill="#000" opacity="0.06"/><rect x="951.5" y="73" width="0.8" height="183" fill="#3c9a3c" opacity="0.03"/><rect x="956.0" y="73" width="1.8" height="183" fill="#0a3a1a" opacity="0.07"/><rect x="960.3" y="73" width="2.6" height="183" fill="#0a3a1a" opacity="0.06"/><rect x="963.7" y="73" width="1.9" height="183" fill="#000" opacity="0.04"/><rect x="969.3" y="73" width="1.5" height="183" fill="#000" opacity="0.06"/><rect x="973.2" y="73" width="1.9" height="183" fill="#0a3a1a" opacity="0.07"/><rect x="977.1" y="73" width="1.7" height="183" fill="#3c9a3c" opacity="0.04"/><rect x="980.3" y="73" width="2.0" height="183" fill="#3c9a3c" opacity="0.05"/><rect x="985.4" y="73" width="0.8" height="183" fill="#000" opacity="0.05"/><rect x="989.0" y="73" width="1.5" height="183" fill="#0a3a1a" opacity="0.02"/><rect x="992.1" y="73" width="1.5" height="183" fill="#3c9a3c" opacity="0.02"/><rect x="997.3" y="73" width="1.6" height="183" fill="#0a3a1a" opacity="0.03"/><rect x="1002.0" y="73" width="0.9" height="183" fill="#000" opacity="0.07"/><rect x="1005.9" y="73" width="1.6" height="183" fill="#000" opacity="0.05"/></g>
<path d="M213 205h1v1h-1zM213 207h1v1h-1zM213 208h1v1h-1zM213 210h1v1h-1zM214 204h1v1h-1zM214 205h1v1h-1zM214 207h1v1h-1zM214 208h1v1h-1zM214 209h1v1h-1zM214 211h1v1h-1zM215 205h1v1h-1zM215 206h1v1h-1zM215 207h1v1h-1zM215 208h1v1h-1zM215 210h1v1h-1zM215 211h1v1h-1zM216 206h1v1h-1zM216 207h1v1h-1zM216 210h1v1h-1zM216 214h1v1h-1zM217 202h1v1h-1zM217 204h1v1h-1zM217 205h1v1h-1zM217 206h1v1h-1zM217 207h1v1h-1zM217 209h1v1h-1zM217 211h1v1h-1zM218 195h1v1h-1zM218 200h1v1h-1zM218 201h1v1h-1zM218 202h1v1h-1zM218 203h1v1h-1zM218 205h1v1h-1zM218 207h1v1h-1zM218 208h1v1h-1zM219 195h1v1h-1zM219 196h1v1h-1zM219 197h1v1h-1zM219 199h1v1h-1zM219 200h1v1h-1zM219 201h1v1h-1zM219 204h1v1h-1zM220 189h1v1h-1zM220 191h1v1h-1zM220 194h1v1h-1zM220 195h1v1h-1zM220 197h1v1h-1zM220 199h1v1h-1zM221 188h1v1h-1zM221 190h1v1h-1zM221 191h1v1h-1zM221 192h1v1h-1zM221 193h1v1h-1zM221 194h1v1h-1zM221 195h1v1h-1zM221 196h1v1h-1zM222 192h1v1h-1zM222 193h1v1h-1zM222 194h1v1h-1zM222 195h1v1h-1zM222 196h1v1h-1zM223 191h1v1h-1zM223 192h1v1h-1zM223 194h1v1h-1zM223 195h1v1h-1zM223 197h1v1h-1zM223 198h1v1h-1zM224 194h1v1h-1zM224 195h1v1h-1zM224 198h1v1h-1zM224 199h1v1h-1zM224 200h1v1h-1zM225 194h1v1h-1zM225 195h1v1h-1zM225 197h1v1h-1zM225 198h1v1h-1zM225 199h1v1h-1zM225 200h1v1h-1zM225 201h1v1h-1zM226 198h1v1h-1zM226 200h1v1h-1zM226 201h1v1h-1zM226 203h1v1h-1zM227 199h1v1h-1zM227 200h1v1h-1zM227 201h1v1h-1zM227 203h1v1h-1zM227 204h1v1h-1zM227 205h1v1h-1zM227 207h1v1h-1zM228 204h1v1h-1zM228 205h1v1h-1zM228 206h1v1h-1zM228 209h1v1h-1zM229 204h1v1h-1zM229 205h1v1h-1zM229 206h1v1h-1zM229 207h1v1h-1zM229 209h1v1h-1zM230 202h1v1h-1zM230 204h1v1h-1zM230 205h1v1h-1zM230 206h1v1h-1zM230 207h1v1h-1zM230 209h1v1h-1zM231 206h1v1h-1zM231 207h1v1h-1zM231 208h1v1h-1zM231 209h1v1h-1zM231 210h1v1h-1zM232 203h1v1h-1zM232 204h1v1h-1zM232 205h1v1h-1zM232 207h1v1h-1zM232 209h1v1h-1zM233 203h1v1h-1zM233 204h1v1h-1zM233 205h1v1h-1zM233 206h1v1h-1zM233 208h1v1h-1zM234 202h1v1h-1zM234 204h1v1h-1zM234 205h1v1h-1zM234 206h1v1h-1zM234 207h1v1h-1zM235 197h1v1h-1zM235 199h1v1h-1zM235 200h1v1h-1zM235 201h1v1h-1zM235 202h1v1h-1zM235 203h1v1h-1zM235 205h1v1h-1zM235 207h1v1h-1zM236 197h1v1h-1zM236 199h1v1h-1zM236 200h1v1h-1zM236 201h1v1h-1zM236 203h1v1h-1zM236 205h1v1h-1zM237 195h1v1h-1zM237 197h1v1h-1zM237 198h1v1h-1zM237 199h1v1h-1zM237 200h1v1h-1zM237 201h1v1h-1zM238 197h1v1h-1zM238 198h1v1h-1zM238 199h1v1h-1zM238 200h1v1h-1zM238 201h1v1h-1zM239 197h1v1h-1zM239 198h1v1h-1zM239 199h1v1h-1zM239 200h1v1h-1zM239 201h1v1h-1zM240 197h1v1h-1zM240 198h1v1h-1zM240 199h1v1h-1zM240 200h1v1h-1zM240 201h1v1h-1zM240 202h1v1h-1zM241 197h1v1h-1zM241 198h1v1h-1zM241 199h1v1h-1zM241 200h1v1h-1zM241 203h1v1h-1zM242 199h1v1h-1zM242 200h1v1h-1zM242 201h1v1h-1zM242 202h1v1h-1zM242 203h1v1h-1zM243 200h1v1h-1zM243 201h1v1h-1zM243 203h1v1h-1zM243 204h1v1h-1zM243 205h1v1h-1zM244 201h1v1h-1zM244 202h1v1h-1zM244 203h1v1h-1zM244 204h1v1h-1zM244 205h1v1h-1zM244 206h1v1h-1zM245 202h1v1h-1zM245 203h1v1h-1zM245 204h1v1h-1zM245 205h1v1h-1zM245 206h1v1h-1zM245 207h1v1h-1zM246 197h1v1h-1zM246 202h1v1h-1zM246 203h1v1h-1zM246 204h1v1h-1zM246 205h1v1h-1zM246 206h1v1h-1zM247 197h1v1h-1zM247 203h1v1h-1zM247 204h1v1h-1zM247 205h1v1h-1zM247 208h1v1h-1zM248 203h1v1h-1zM248 205h1v1h-1zM248 206h1v1h-1zM248 207h1v1h-1zM248 210h1v1h-1zM249 203h1v1h-1zM249 204h1v1h-1zM249 205h1v1h-1zM249 206h1v1h-1zM249 208h1v1h-1zM250 202h1v1h-1zM250 203h1v1h-1zM250 205h1v1h-1zM250 206h1v1h-1zM250 207h1v1h-1zM250 209h1v1h-1zM251 201h1v1h-1zM251 202h1v1h-1zM251 203h1v1h-1zM251 204h1v1h-1zM251 205h1v1h-1zM251 206h1v1h-1zM251 209h1v1h-1zM252 201h1v1h-1zM252 203h1v1h-1zM252 204h1v1h-1zM252 205h1v1h-1zM252 206h1v1h-1zM252 207h1v1h-1zM252 208h1v1h-1zM252 209h1v1h-1zM253 201h1v1h-1zM253 202h1v1h-1zM253 203h1v1h-1zM253 204h1v1h-1zM253 206h1v1h-1zM253 208h1v1h-1zM254 198h1v1h-1zM254 200h1v1h-1zM254 201h1v1h-1zM254 203h1v1h-1zM254 204h1v1h-1zM254 206h1v1h-1zM255 199h1v1h-1zM259 219h1v1h-1zM260 216h1v1h-1zM260 219h1v1h-1zM261 214h1v1h-1zM261 219h1v1h-1zM262 214h1v1h-1zM262 217h1v1h-1zM263 214h1v1h-1zM263 219h1v1h-1zM264 213h1v1h-1zM265 211h1v1h-1zM265 214h1v1h-1zM266 211h1v1h-1zM267 209h1v1h-1zM268 207h1v1h-1zM268 208h1v1h-1zM269 207h1v1h-1zM270 207h1v1h-1zM270 213h1v1h-1zM271 211h1v1h-1zM272 212h1v1h-1zM272 213h1v1h-1zM272 215h1v1h-1zM273 211h1v1h-1zM273 214h1v1h-1zM274 211h1v1h-1zM274 212h1v1h-1zM275 215h1v1h-1zM275 223h1v1h-1zM275 227h1v1h-1zM276 220h1v1h-1zM276 222h1v1h-1zM276 223h1v1h-1zM276 226h1v1h-1zM277 221h1v1h-1zM277 222h1v1h-1zM278 226h1v1h-1zM278 231h1v1h-1zM279 223h1v1h-1zM279 224h1v1h-1zM279 226h1v1h-1zM279 228h1v1h-1zM279 229h1v1h-1zM279 233h1v1h-1zM279 234h1v1h-1zM279 237h1v1h-1zM279 238h1v1h-1zM279 240h1v1h-1zM280 245h1v1h-1zM280 248h1v1h-1zM280 249h1v1h-1zM280 253h1v1h-1zM280 258h1v1h-1zM280 259h1v1h-1zM280 260h1v1h-1zM280 261h1v1h-1zM281 263h1v1h-1zM281 264h1v1h-1zM281 265h1v1h-1zM281 267h1v1h-1zM281 269h1v1h-1zM281 276h1v1h-1zM281 280h1v1h-1zM281 281h1v1h-1zM285 285h1v1h-1zM285 286h1v1h-1zM285 287h1v1h-1zM285 288h1v1h-1zM285 291h1v1h-1zM285 293h1v1h-1zM290 433h1v1h-1zM290 434h1v1h-1zM290 435h1v1h-1zM290 436h1v1h-1zM290 437h1v1h-1zM290 438h1v1h-1zM290 439h1v1h-1zM290 440h1v1h-1zM290 441h1v1h-1zM290 442h1v1h-1zM290 443h1v1h-1zM290 444h1v1h-1zM290 447h1v1h-1zM290 451h1v1h-1zM290 452h1v1h-1zM290 453h1v1h-1zM290 455h1v1h-1zM303 465h1v1h-1zM304 465h1v1h-1zM309 452h1v1h-1zM309 466h1v1h-1zM310 441h1v1h-1zM310 443h1v1h-1zM310 444h1v1h-1zM310 445h1v1h-1zM310 446h1v1h-1zM310 447h1v1h-1zM310 448h1v1h-1zM310 449h1v1h-1zM310 451h1v1h-1zM310 454h1v1h-1zM310 455h1v1h-1zM312 404h1v1h-1zM312 408h1v1h-1zM312 412h1v1h-1zM313 393h1v1h-1zM313 395h1v1h-1zM313 396h1v1h-1zM313 397h1v1h-1zM313 405h1v1h-1zM313 408h1v1h-1zM313 409h1v1h-1zM313 412h1v1h-1zM313 415h1v1h-1zM313 416h1v1h-1zM313 417h1v1h-1zM317 353h1v1h-1zM317 354h1v1h-1zM317 355h1v1h-1zM317 359h1v1h-1zM317 363h1v1h-1zM317 366h1v1h-1zM317 368h1v1h-1zM317 371h1v1h-1zM317 377h1v1h-1zM317 380h1v1h-1zM317 382h1v1h-1zM317 384h1v1h-1zM317 389h1v1h-1zM319 292h1v1h-1zM319 301h1v1h-1zM319 320h1v1h-1zM319 321h1v1h-1zM319 330h1v1h-1zM319 331h1v1h-1zM319 336h1v1h-1zM319 337h1v1h-1zM319 339h1v1h-1zM319 340h1v1h-1zM319 341h1v1h-1zM320 293h1v1h-1zM320 297h1v1h-1zM320 305h1v1h-1zM320 306h1v1h-1zM320 308h1v1h-1zM320 321h1v1h-1zM321 291h1v1h-1zM321 295h1v1h-1zM321 298h1v1h-1zM321 306h1v1h-1zM321 309h1v1h-1zM321 323h1v1h-1zM322 288h1v1h-1zM322 292h1v1h-1zM322 295h1v1h-1zM322 296h1v1h-1zM322 303h1v1h-1zM322 304h1v1h-1zM322 314h1v1h-1zM322 323h1v1h-1zM322 324h1v1h-1zM322 329h1v1h-1zM323 288h1v1h-1zM323 289h1v1h-1zM323 291h1v1h-1zM323 303h1v1h-1zM323 304h1v1h-1zM323 312h1v1h-1zM323 322h1v1h-1zM323 323h1v1h-1zM324 290h1v1h-1zM324 302h1v1h-1zM324 308h1v1h-1zM325 293h1v1h-1zM325 298h1v1h-1zM325 300h1v1h-1zM325 301h1v1h-1zM325 302h1v1h-1zM325 303h1v1h-1zM325 307h1v1h-1zM325 308h1v1h-1zM326 292h1v1h-1zM326 297h1v1h-1zM326 298h1v1h-1zM326 299h1v1h-1zM326 302h1v1h-1zM326 303h1v1h-1zM327 289h1v1h-1zM327 290h1v1h-1zM327 292h1v1h-1zM327 293h1v1h-1zM327 295h1v1h-1zM327 309h1v1h-1zM329 266h1v1h-1zM329 267h1v1h-1zM329 268h1v1h-1zM329 269h1v1h-1zM329 270h1v1h-1zM329 271h1v1h-1zM329 273h1v1h-1zM329 276h1v1h-1zM329 277h1v1h-1zM329 281h1v1h-1zM329 284h1v1h-1zM330 275h1v1h-1zM330 277h1v1h-1zM330 279h1v1h-1zM330 281h1v1h-1zM333 260h1v1h-1zM335 230h1v1h-1zM335 231h1v1h-1zM335 234h1v1h-1zM335 235h1v1h-1zM335 238h1v1h-1zM335 239h1v1h-1zM335 241h1v1h-1zM335 245h1v1h-1zM335 246h1v1h-1zM335 247h1v1h-1zM335 249h1v1h-1zM335 250h1v1h-1zM335 254h1v1h-1zM335 255h1v1h-1zM335 257h1v1h-1zM336 223h1v1h-1zM336 224h1v1h-1zM337 223h1v1h-1zM338 215h1v1h-1zM338 216h1v1h-1zM338 223h1v1h-1zM339 215h1v1h-1zM340 215h1v1h-1zM341 219h1v1h-1zM342 215h1v1h-1zM343 214h1v1h-1zM344 207h1v1h-1zM345 206h1v1h-1zM345 207h1v1h-1zM345 211h1v1h-1zM345 212h1v1h-1zM346 206h1v1h-1zM346 207h1v1h-1zM346 208h1v1h-1zM346 212h1v1h-1zM347 204h1v1h-1zM347 206h1v1h-1zM347 207h1v1h-1zM347 208h1v1h-1zM348 204h1v1h-1zM348 207h1v1h-1zM348 210h1v1h-1zM349 204h1v1h-1zM349 208h1v1h-1zM350 200h1v1h-1zM350 201h1v1h-1zM350 202h1v1h-1zM350 205h1v1h-1zM350 209h1v1h-1zM351 199h1v1h-1zM351 200h1v1h-1zM351 202h1v1h-1zM351 204h1v1h-1zM352 199h1v1h-1zM352 200h1v1h-1zM352 204h1v1h-1zM353 200h1v1h-1zM353 202h1v1h-1zM353 205h1v1h-1zM354 199h1v1h-1zM354 200h1v1h-1zM354 202h1v1h-1zM354 204h1v1h-1zM355 202h1v1h-1zM355 203h1v1h-1zM355 204h1v1h-1zM356 204h1v1h-1zM356 205h1v1h-1zM356 209h1v1h-1zM357 198h1v1h-1zM357 204h1v1h-1zM357 207h1v1h-1zM358 199h1v1h-1zM358 207h1v1h-1zM359 197h1v1h-1zM359 202h1v1h-1zM360 198h1v1h-1zM360 199h1v1h-1zM360 201h1v1h-1zM360 203h1v1h-1zM360 204h1v1h-1zM360 205h1v1h-1zM361 198h1v1h-1zM361 200h1v1h-1zM361 204h1v1h-1zM362 199h1v1h-1zM362 200h1v1h-1zM362 201h1v1h-1zM363 193h1v1h-1zM363 194h1v1h-1zM363 199h1v1h-1zM363 200h1v1h-1zM364 192h1v1h-1zM364 195h1v1h-1zM364 197h1v1h-1zM365 192h1v1h-1zM365 195h1v1h-1zM365 196h1v1h-1zM366 192h1v1h-1zM366 193h1v1h-1zM366 194h1v1h-1zM366 196h1v1h-1zM367 195h1v1h-1zM367 198h1v1h-1zM368 194h1v1h-1zM368 195h1v1h-1zM368 201h1v1h-1zM369 195h1v1h-1zM369 196h1v1h-1zM369 197h1v1h-1zM369 200h1v1h-1zM370 189h1v1h-1zM370 194h1v1h-1zM370 195h1v1h-1zM371 190h1v1h-1zM371 195h1v1h-1zM372 187h1v1h-1zM372 190h1v1h-1zM372 191h1v1h-1zM372 193h1v1h-1zM373 190h1v1h-1zM373 193h1v1h-1zM373 197h1v1h-1zM374 190h1v1h-1zM374 193h1v1h-1zM374 194h1v1h-1zM374 195h1v1h-1zM374 198h1v1h-1zM375 194h1v1h-1zM375 195h1v1h-1zM375 196h1v1h-1zM375 198h1v1h-1zM376 194h1v1h-1zM376 196h1v1h-1zM376 200h1v1h-1zM377 193h1v1h-1zM377 194h1v1h-1zM377 196h1v1h-1zM378 193h1v1h-1zM378 196h1v1h-1zM379 192h1v1h-1zM379 193h1v1h-1zM379 195h1v1h-1zM380 191h1v1h-1zM380 193h1v1h-1zM380 194h1v1h-1zM381 191h1v1h-1zM381 194h1v1h-1zM382 191h1v1h-1zM382 193h1v1h-1zM383 187h1v1h-1zM383 189h1v1h-1zM383 190h1v1h-1zM383 193h1v1h-1zM384 185h1v1h-1zM384 187h1v1h-1zM384 189h1v1h-1zM384 191h1v1h-1zM384 193h1v1h-1zM385 184h1v1h-1zM385 186h1v1h-1zM386 182h1v1h-1zM386 188h1v1h-1zM386 189h1v1h-1zM387 183h1v1h-1zM387 184h1v1h-1zM387 187h1v1h-1zM387 188h1v1h-1zM387 192h1v1h-1zM387 193h1v1h-1zM388 185h1v1h-1zM388 186h1v1h-1zM388 190h1v1h-1zM388 191h1v1h-1zM388 192h1v1h-1zM388 193h1v1h-1zM389 190h1v1h-1zM389 192h1v1h-1zM390 191h1v1h-1zM390 192h1v1h-1zM390 193h1v1h-1zM391 192h1v1h-1zM391 193h1v1h-1zM391 196h1v1h-1zM392 191h1v1h-1zM392 195h1v1h-1zM393 189h1v1h-1zM393 190h1v1h-1zM393 192h1v1h-1zM394 187h1v1h-1zM394 190h1v1h-1zM394 191h1v1h-1zM395 186h1v1h-1zM395 188h1v1h-1zM395 191h1v1h-1zM396 184h1v1h-1zM396 185h1v1h-1zM396 186h1v1h-1zM396 187h1v1h-1zM396 189h1v1h-1zM396 190h1v1h-1zM397 185h1v1h-1zM397 187h1v1h-1zM397 189h1v1h-1zM397 193h1v1h-1zM398 190h1v1h-1zM398 191h1v1h-1zM399 185h1v1h-1zM400 185h1v1h-1zM400 190h1v1h-1zM401 185h1v1h-1zM401 186h1v1h-1zM401 189h1v1h-1zM401 191h1v1h-1zM401 193h1v1h-1zM402 189h1v1h-1zM402 191h1v1h-1zM402 194h1v1h-1zM402 198h1v1h-1zM403 186h1v1h-1zM403 187h1v1h-1zM403 189h1v1h-1zM404 188h1v1h-1zM405 181h1v1h-1zM405 185h1v1h-1zM405 188h1v1h-1zM406 176h1v1h-1zM406 182h1v1h-1zM406 186h1v1h-1zM407 180h1v1h-1zM407 182h1v1h-1zM407 185h1v1h-1zM408 178h1v1h-1zM408 179h1v1h-1zM408 181h1v1h-1zM408 182h1v1h-1zM409 179h1v1h-1zM409 181h1v1h-1zM409 184h1v1h-1zM409 186h1v1h-1zM410 180h1v1h-1zM410 185h1v1h-1zM411 173h1v1h-1zM411 180h1v1h-1zM412 178h1v1h-1zM412 179h1v1h-1zM412 186h1v1h-1zM413 177h1v1h-1zM413 180h1v1h-1zM413 181h1v1h-1zM413 183h1v1h-1zM414 178h1v1h-1zM414 181h1v1h-1zM415 177h1v1h-1zM415 178h1v1h-1zM415 182h1v1h-1zM415 183h1v1h-1zM416 172h1v1h-1zM416 176h1v1h-1zM416 178h1v1h-1zM416 179h1v1h-1zM416 180h1v1h-1zM416 182h1v1h-1zM417 175h1v1h-1zM417 179h1v1h-1zM417 181h1v1h-1zM418 172h1v1h-1zM418 174h1v1h-1zM418 177h1v1h-1zM419 176h1v1h-1zM419 177h1v1h-1zM420 170h1v1h-1zM420 171h1v1h-1zM420 173h1v1h-1zM421 170h1v1h-1zM421 173h1v1h-1zM421 174h1v1h-1zM421 175h1v1h-1zM421 176h1v1h-1zM422 173h1v1h-1zM422 175h1v1h-1zM422 180h1v1h-1zM423 173h1v1h-1zM423 174h1v1h-1zM423 175h1v1h-1zM423 181h1v1h-1zM424 178h1v1h-1zM424 183h1v1h-1zM425 174h1v1h-1zM425 178h1v1h-1zM425 179h1v1h-1zM426 173h1v1h-1zM426 174h1v1h-1zM426 175h1v1h-1zM427 169h1v1h-1zM427 176h1v1h-1zM428 170h1v1h-1zM428 174h1v1h-1zM428 175h1v1h-1zM429 172h1v1h-1zM429 173h1v1h-1zM429 175h1v1h-1zM430 169h1v1h-1zM430 170h1v1h-1zM430 173h1v1h-1zM431 168h1v1h-1zM431 170h1v1h-1zM431 171h1v1h-1zM431 172h1v1h-1zM432 165h1v1h-1zM432 169h1v1h-1zM432 172h1v1h-1zM433 164h1v1h-1zM433 167h1v1h-1zM433 168h1v1h-1zM434 165h1v1h-1zM434 166h1v1h-1zM434 167h1v1h-1zM434 169h1v1h-1zM435 165h1v1h-1zM435 166h1v1h-1zM435 168h1v1h-1zM435 169h1v1h-1zM435 170h1v1h-1zM436 162h1v1h-1zM436 168h1v1h-1zM436 169h1v1h-1zM437 163h1v1h-1zM437 166h1v1h-1zM437 171h1v1h-1zM438 165h1v1h-1zM438 169h1v1h-1zM438 174h1v1h-1zM439 166h1v1h-1zM439 167h1v1h-1zM439 169h1v1h-1zM439 170h1v1h-1zM439 174h1v1h-1zM440 169h1v1h-1zM440 170h1v1h-1zM440 172h1v1h-1zM440 173h1v1h-1zM441 169h1v1h-1zM441 172h1v1h-1zM441 174h1v1h-1zM442 165h1v1h-1zM442 167h1v1h-1zM442 170h1v1h-1zM443 163h1v1h-1zM443 165h1v1h-1zM443 167h1v1h-1zM443 170h1v1h-1zM444 162h1v1h-1zM444 164h1v1h-1zM444 165h1v1h-1zM444 166h1v1h-1zM445 162h1v1h-1zM445 163h1v1h-1zM445 165h1v1h-1zM446 159h1v1h-1zM446 162h1v1h-1zM446 165h1v1h-1zM447 159h1v1h-1zM447 161h1v1h-1zM447 164h1v1h-1zM447 165h1v1h-1zM448 162h1v1h-1zM448 163h1v1h-1zM448 164h1v1h-1zM448 168h1v1h-1zM449 161h1v1h-1zM449 163h1v1h-1zM449 164h1v1h-1zM449 168h1v1h-1zM449 170h1v1h-1zM449 171h1v1h-1zM450 166h1v1h-1zM450 170h1v1h-1zM450 171h1v1h-1zM451 163h1v1h-1zM451 169h1v1h-1zM451 170h1v1h-1zM452 165h1v1h-1zM452 167h1v1h-1zM452 169h1v1h-1zM452 170h1v1h-1zM453 168h1v1h-1zM453 169h1v1h-1zM453 172h1v1h-1zM454 167h1v1h-1zM454 169h1v1h-1zM454 170h1v1h-1zM455 168h1v1h-1zM455 173h1v1h-1zM455 175h1v1h-1zM456 173h1v1h-1zM456 175h1v1h-1zM456 176h1v1h-1zM457 173h1v1h-1zM457 175h1v1h-1zM457 176h1v1h-1zM458 166h1v1h-1zM458 167h1v1h-1zM458 170h1v1h-1zM459 165h1v1h-1zM459 166h1v1h-1zM459 170h1v1h-1zM460 165h1v1h-1zM460 170h1v1h-1zM460 173h1v1h-1zM461 166h1v1h-1zM461 169h1v1h-1zM461 173h1v1h-1zM462 169h1v1h-1zM462 170h1v1h-1zM462 171h1v1h-1zM462 175h1v1h-1zM463 168h1v1h-1zM463 171h1v1h-1zM463 173h1v1h-1zM463 174h1v1h-1zM463 175h1v1h-1zM464 167h1v1h-1zM464 173h1v1h-1zM465 166h1v1h-1zM465 175h1v1h-1zM465 176h1v1h-1zM466 165h1v1h-1zM466 167h1v1h-1zM466 170h1v1h-1zM466 171h1v1h-1zM466 176h1v1h-1zM467 163h1v1h-1zM467 165h1v1h-1zM467 167h1v1h-1zM467 169h1v1h-1zM467 172h1v1h-1zM468 163h1v1h-1zM468 166h1v1h-1zM469 164h1v1h-1zM469 165h1v1h-1zM469 169h1v1h-1zM470 164h1v1h-1zM470 166h1v1h-1zM470 170h1v1h-1zM471 165h1v1h-1zM471 170h1v1h-1zM472 163h1v1h-1zM472 165h1v1h-1zM472 166h1v1h-1zM473 165h1v1h-1zM473 168h1v1h-1zM473 171h1v1h-1zM474 165h1v1h-1zM474 168h1v1h-1zM474 169h1v1h-1zM474 172h1v1h-1zM475 166h1v1h-1zM475 168h1v1h-1zM475 170h1v1h-1zM476 171h1v1h-1zM476 173h1v1h-1zM476 175h1v1h-1zM477 170h1v1h-1zM477 171h1v1h-1zM477 173h1v1h-1zM478 167h1v1h-1zM478 168h1v1h-1zM478 171h1v1h-1zM478 175h1v1h-1zM479 166h1v1h-1zM479 167h1v1h-1zM479 171h1v1h-1zM479 172h1v1h-1zM479 175h1v1h-1zM480 167h1v1h-1zM480 174h1v1h-1zM480 176h1v1h-1zM481 172h1v1h-1zM481 174h1v1h-1zM481 176h1v1h-1zM482 172h1v1h-1zM482 173h1v1h-1zM482 175h1v1h-1zM482 177h1v1h-1zM483 171h1v1h-1zM483 172h1v1h-1zM484 171h1v1h-1zM484 172h1v1h-1zM484 174h1v1h-1zM485 170h1v1h-1zM485 171h1v1h-1zM485 172h1v1h-1zM485 176h1v1h-1zM486 167h1v1h-1zM486 169h1v1h-1zM486 172h1v1h-1zM487 169h1v1h-1zM488 170h1v1h-1zM488 172h1v1h-1zM489 166h1v1h-1zM489 167h1v1h-1zM489 171h1v1h-1zM490 166h1v1h-1zM490 176h1v1h-1zM491 167h1v1h-1zM491 168h1v1h-1zM492 168h1v1h-1zM492 170h1v1h-1zM492 171h1v1h-1zM493 161h1v1h-1zM493 167h1v1h-1zM494 156h1v1h-1zM494 162h1v1h-1zM495 156h1v1h-1zM495 162h1v1h-1zM496 154h1v1h-1zM496 156h1v1h-1zM496 160h1v1h-1zM496 161h1v1h-1zM497 156h1v1h-1zM497 159h1v1h-1zM497 161h1v1h-1zM498 155h1v1h-1zM498 157h1v1h-1zM498 159h1v1h-1zM499 154h1v1h-1zM499 157h1v1h-1zM500 152h1v1h-1zM500 155h1v1h-1zM500 156h1v1h-1zM501 152h1v1h-1zM501 153h1v1h-1zM501 156h1v1h-1zM502 150h1v1h-1zM502 152h1v1h-1zM502 155h1v1h-1zM502 161h1v1h-1zM503 151h1v1h-1zM503 155h1v1h-1zM503 160h1v1h-1zM504 155h1v1h-1zM504 159h1v1h-1zM504 160h1v1h-1zM504 161h1v1h-1zM505 158h1v1h-1zM505 159h1v1h-1zM505 164h1v1h-1zM506 158h1v1h-1zM506 160h1v1h-1zM506 162h1v1h-1zM507 162h1v1h-1zM507 163h1v1h-1zM507 164h1v1h-1zM508 164h1v1h-1zM508 165h1v1h-1zM509 164h1v1h-1zM509 165h1v1h-1zM509 166h1v1h-1zM509 167h1v1h-1zM510 166h1v1h-1zM510 167h1v1h-1zM510 168h1v1h-1zM510 171h1v1h-1zM510 172h1v1h-1zM511 169h1v1h-1zM511 170h1v1h-1zM511 171h1v1h-1zM512 172h1v1h-1zM512 175h1v1h-1zM513 171h1v1h-1zM513 172h1v1h-1zM513 173h1v1h-1zM513 174h1v1h-1zM513 176h1v1h-1zM514 171h1v1h-1zM514 173h1v1h-1zM514 175h1v1h-1zM515 174h1v1h-1zM515 179h1v1h-1zM516 172h1v1h-1zM516 176h1v1h-1zM516 178h1v1h-1zM517 174h1v1h-1zM517 175h1v1h-1zM517 176h1v1h-1zM517 177h1v1h-1zM517 179h1v1h-1zM518 176h1v1h-1zM518 177h1v1h-1zM518 178h1v1h-1zM519 174h1v1h-1zM519 175h1v1h-1zM520 164h1v1h-1zM520 170h1v1h-1zM521 167h1v1h-1zM521 169h1v1h-1zM521 171h1v1h-1zM522 163h1v1h-1zM522 167h1v1h-1zM522 169h1v1h-1zM522 170h1v1h-1zM522 172h1v1h-1zM523 162h1v1h-1zM523 164h1v1h-1zM523 166h1v1h-1zM523 168h1v1h-1zM524 165h1v1h-1zM524 166h1v1h-1zM524 167h1v1h-1zM524 168h1v1h-1zM525 164h1v1h-1zM525 166h1v1h-1zM525 167h1v1h-1zM526 166h1v1h-1zM526 167h1v1h-1zM526 172h1v1h-1zM527 167h1v1h-1zM527 170h1v1h-1zM528 170h1v1h-1zM528 172h1v1h-1zM529 172h1v1h-1zM529 175h1v1h-1zM529 177h1v1h-1zM529 182h1v1h-1zM530 171h1v1h-1zM530 173h1v1h-1zM530 175h1v1h-1zM530 176h1v1h-1zM530 180h1v1h-1zM530 182h1v1h-1zM531 177h1v1h-1zM531 179h1v1h-1zM531 180h1v1h-1zM532 171h1v1h-1zM532 174h1v1h-1zM532 177h1v1h-1zM532 178h1v1h-1zM532 180h1v1h-1zM533 173h1v1h-1zM533 174h1v1h-1zM533 176h1v1h-1zM534 175h1v1h-1zM534 176h1v1h-1zM534 177h1v1h-1zM534 179h1v1h-1zM534 180h1v1h-1zM535 175h1v1h-1zM535 179h1v1h-1zM535 180h1v1h-1zM535 182h1v1h-1zM536 179h1v1h-1zM536 182h1v1h-1zM537 177h1v1h-1zM537 179h1v1h-1zM537 181h1v1h-1zM537 182h1v1h-1zM538 171h1v1h-1zM538 174h1v1h-1zM538 176h1v1h-1zM538 177h1v1h-1zM539 174h1v1h-1zM539 175h1v1h-1zM539 178h1v1h-1zM539 182h1v1h-1zM540 174h1v1h-1zM540 175h1v1h-1zM541 170h1v1h-1zM541 176h1v1h-1zM542 176h1v1h-1zM542 177h1v1h-1zM542 179h1v1h-1zM543 175h1v1h-1zM543 176h1v1h-1zM543 178h1v1h-1zM544 171h1v1h-1zM544 176h1v1h-1zM544 178h1v1h-1zM544 183h1v1h-1zM545 181h1v1h-1zM545 182h1v1h-1zM546 178h1v1h-1zM546 182h1v1h-1zM547 176h1v1h-1zM547 177h1v1h-1zM548 178h1v1h-1zM548 181h1v1h-1zM549 180h1v1h-1zM549 185h1v1h-1zM550 179h1v1h-1zM550 185h1v1h-1zM551 180h1v1h-1zM551 183h1v1h-1zM552 183h1v1h-1zM552 187h1v1h-1zM552 189h1v1h-1zM553 181h1v1h-1zM553 182h1v1h-1zM553 184h1v1h-1zM553 188h1v1h-1zM554 178h1v1h-1zM554 181h1v1h-1zM554 183h1v1h-1zM554 185h1v1h-1zM555 175h1v1h-1zM555 180h1v1h-1zM555 183h1v1h-1zM556 174h1v1h-1zM556 180h1v1h-1zM556 181h1v1h-1zM557 182h1v1h-1zM557 183h1v1h-1zM558 176h1v1h-1zM558 179h1v1h-1zM558 186h1v1h-1zM559 178h1v1h-1zM560 174h1v1h-1zM560 177h1v1h-1zM560 180h1v1h-1zM561 177h1v1h-1zM561 179h1v1h-1zM561 183h1v1h-1zM562 176h1v1h-1zM562 177h1v1h-1zM562 180h1v1h-1zM562 182h1v1h-1zM563 175h1v1h-1zM563 176h1v1h-1zM563 180h1v1h-1zM563 181h1v1h-1zM564 175h1v1h-1zM564 179h1v1h-1zM564 181h1v1h-1zM565 173h1v1h-1zM565 178h1v1h-1zM566 173h1v1h-1zM566 175h1v1h-1zM566 176h1v1h-1zM566 178h1v1h-1zM567 175h1v1h-1zM567 178h1v1h-1zM567 180h1v1h-1zM568 177h1v1h-1zM568 178h1v1h-1zM568 180h1v1h-1zM569 175h1v1h-1zM569 179h1v1h-1zM569 180h1v1h-1zM569 181h1v1h-1zM570 175h1v1h-1zM570 178h1v1h-1zM570 182h1v1h-1zM571 176h1v1h-1zM571 178h1v1h-1zM571 179h1v1h-1zM571 182h1v1h-1zM572 181h1v1h-1zM572 182h1v1h-1zM573 177h1v1h-1zM573 180h1v1h-1zM573 182h1v1h-1zM574 177h1v1h-1zM574 178h1v1h-1zM574 179h1v1h-1zM574 181h1v1h-1zM574 183h1v1h-1zM575 175h1v1h-1zM575 180h1v1h-1zM576 181h1v1h-1zM576 183h1v1h-1zM577 181h1v1h-1zM577 182h1v1h-1zM577 185h1v1h-1zM578 181h1v1h-1zM650 174h1v1h-1zM650 177h1v1h-1zM651 172h1v1h-1zM651 175h1v1h-1zM683 172h1v1h-1zM684 172h1v1h-1zM684 174h1v1h-1zM684 175h1v1h-1zM684 177h1v1h-1zM685 170h1v1h-1zM685 174h1v1h-1zM686 166h1v1h-1zM686 168h1v1h-1zM687 167h1v1h-1zM713 171h1v1h-1zM713 173h1v1h-1zM714 168h1v1h-1zM714 169h1v1h-1zM714 173h1v1h-1zM715 169h1v1h-1zM715 172h1v1h-1zM715 173h1v1h-1zM716 173h1v1h-1zM716 175h1v1h-1zM717 172h1v1h-1zM717 173h1v1h-1zM718 169h1v1h-1zM718 174h1v1h-1zM718 177h1v1h-1zM719 172h1v1h-1zM719 176h1v1h-1zM720 171h1v1h-1zM721 171h1v1h-1zM721 174h1v1h-1zM721 176h1v1h-1zM722 177h1v1h-1zM723 174h1v1h-1zM723 175h1v1h-1zM723 177h1v1h-1zM724 173h1v1h-1zM724 174h1v1h-1zM724 175h1v1h-1zM725 174h1v1h-1zM725 175h1v1h-1zM726 171h1v1h-1zM726 174h1v1h-1zM727 175h1v1h-1zM744 170h1v1h-1zM745 170h1v1h-1zM746 176h1v1h-1zM747 171h1v1h-1zM748 175h1v1h-1zM748 176h1v1h-1zM749 177h1v1h-1zM750 180h1v1h-1zM751 175h1v1h-1zM751 177h1v1h-1zM751 180h1v1h-1zM751 181h1v1h-1zM752 179h1v1h-1zM753 175h1v1h-1zM754 176h1v1h-1zM754 179h1v1h-1zM755 175h1v1h-1zM756 167h1v1h-1zM756 169h1v1h-1zM756 173h1v1h-1zM756 176h1v1h-1zM757 167h1v1h-1zM757 169h1v1h-1zM757 173h1v1h-1zM759 264h1v1h-1zM760 166h1v1h-1zM760 168h1v1h-1zM761 166h1v1h-1zM761 167h1v1h-1zM762 175h1v1h-1zM762 176h1v1h-1zM762 177h1v1h-1zM763 172h1v1h-1zM763 176h1v1h-1zM764 174h1v1h-1zM764 175h1v1h-1zM764 176h1v1h-1zM764 177h1v1h-1zM765 174h1v1h-1zM765 176h1v1h-1zM765 177h1v1h-1zM765 181h1v1h-1zM766 176h1v1h-1zM766 180h1v1h-1zM766 181h1v1h-1zM767 173h1v1h-1zM767 175h1v1h-1zM767 178h1v1h-1zM768 173h1v1h-1zM768 174h1v1h-1zM768 177h1v1h-1zM768 179h1v1h-1zM769 169h1v1h-1zM769 175h1v1h-1zM769 177h1v1h-1zM769 178h1v1h-1zM770 169h1v1h-1zM770 180h1v1h-1zM771 175h1v1h-1zM771 176h1v1h-1zM771 178h1v1h-1zM772 175h1v1h-1zM772 176h1v1h-1zM773 176h1v1h-1zM773 177h1v1h-1zM773 179h1v1h-1zM773 181h1v1h-1zM774 175h1v1h-1zM774 178h1v1h-1zM774 179h1v1h-1zM775 174h1v1h-1zM775 177h1v1h-1zM775 178h1v1h-1zM775 180h1v1h-1zM776 177h1v1h-1zM776 178h1v1h-1zM776 180h1v1h-1zM777 180h1v1h-1zM777 181h1v1h-1zM778 175h1v1h-1zM778 179h1v1h-1zM778 180h1v1h-1zM778 181h1v1h-1zM778 183h1v1h-1zM779 176h1v1h-1zM779 179h1v1h-1zM779 180h1v1h-1zM779 182h1v1h-1zM780 180h1v1h-1zM780 181h1v1h-1zM780 182h1v1h-1zM781 176h1v1h-1zM781 180h1v1h-1zM781 181h1v1h-1zM782 178h1v1h-1zM782 181h1v1h-1zM782 184h1v1h-1zM783 179h1v1h-1zM783 180h1v1h-1zM783 181h1v1h-1zM784 174h1v1h-1zM784 179h1v1h-1zM785 178h1v1h-1zM785 179h1v1h-1zM785 180h1v1h-1zM786 171h1v1h-1zM786 178h1v1h-1zM787 174h1v1h-1zM787 178h1v1h-1zM787 180h1v1h-1zM788 177h1v1h-1zM788 179h1v1h-1zM788 184h1v1h-1zM789 182h1v1h-1zM789 183h1v1h-1zM790 181h1v1h-1zM791 181h1v1h-1zM791 184h1v1h-1zM792 184h1v1h-1zM792 185h1v1h-1zM792 186h1v1h-1zM793 180h1v1h-1zM793 182h1v1h-1zM793 184h1v1h-1zM793 185h1v1h-1zM794 184h1v1h-1zM794 186h1v1h-1zM794 187h1v1h-1zM795 183h1v1h-1zM795 184h1v1h-1zM795 186h1v1h-1zM796 183h1v1h-1zM796 187h1v1h-1zM797 180h1v1h-1zM797 181h1v1h-1zM797 183h1v1h-1zM797 184h1v1h-1zM798 181h1v1h-1zM798 182h1v1h-1zM798 184h1v1h-1zM799 182h1v1h-1zM799 184h1v1h-1zM800 177h1v1h-1zM800 180h1v1h-1zM800 184h1v1h-1zM801 176h1v1h-1zM801 179h1v1h-1zM802 175h1v1h-1zM802 179h1v1h-1zM803 176h1v1h-1zM803 177h1v1h-1zM803 180h1v1h-1zM803 182h1v1h-1zM804 176h1v1h-1zM804 178h1v1h-1zM804 179h1v1h-1zM805 179h1v1h-1zM805 182h1v1h-1zM805 184h1v1h-1zM806 179h1v1h-1zM806 183h1v1h-1zM806 184h1v1h-1zM807 175h1v1h-1zM807 177h1v1h-1zM807 181h1v1h-1zM807 182h1v1h-1zM808 179h1v1h-1zM808 180h1v1h-1zM808 181h1v1h-1zM809 179h1v1h-1zM809 180h1v1h-1zM809 181h1v1h-1zM809 184h1v1h-1zM810 178h1v1h-1zM810 179h1v1h-1zM810 180h1v1h-1zM810 183h1v1h-1zM811 179h1v1h-1zM811 180h1v1h-1zM811 181h1v1h-1zM812 181h1v1h-1zM813 179h1v1h-1zM813 180h1v1h-1zM813 181h1v1h-1zM814 176h1v1h-1zM814 182h1v1h-1zM814 183h1v1h-1zM814 184h1v1h-1zM815 176h1v1h-1zM815 181h1v1h-1zM815 182h1v1h-1zM816 179h1v1h-1zM816 180h1v1h-1zM817 183h1v1h-1zM817 188h1v1h-1zM817 189h1v1h-1zM818 186h1v1h-1zM818 189h1v1h-1zM818 191h1v1h-1zM819 189h1v1h-1zM819 191h1v1h-1zM819 193h1v1h-1zM820 188h1v1h-1zM820 189h1v1h-1zM820 190h1v1h-1zM821 189h1v1h-1zM821 190h1v1h-1zM821 193h1v1h-1zM822 189h1v1h-1zM822 191h1v1h-1zM823 183h1v1h-1zM823 184h1v1h-1zM823 188h1v1h-1zM823 191h1v1h-1zM824 183h1v1h-1zM824 188h1v1h-1zM824 189h1v1h-1zM824 191h1v1h-1zM825 186h1v1h-1zM825 188h1v1h-1zM825 189h1v1h-1zM825 191h1v1h-1zM826 184h1v1h-1zM826 185h1v1h-1zM826 186h1v1h-1zM826 187h1v1h-1zM827 184h1v1h-1zM827 185h1v1h-1zM828 183h1v1h-1zM828 186h1v1h-1zM829 186h1v1h-1zM829 188h1v1h-1zM830 182h1v1h-1zM830 186h1v1h-1zM830 191h1v1h-1zM831 182h1v1h-1zM831 188h1v1h-1zM831 189h1v1h-1zM831 190h1v1h-1zM832 189h1v1h-1zM832 191h1v1h-1zM832 193h1v1h-1zM832 198h1v1h-1zM833 191h1v1h-1zM833 192h1v1h-1zM833 198h1v1h-1zM834 197h1v1h-1zM834 198h1v1h-1zM835 198h1v1h-1zM835 201h1v1h-1zM836 191h1v1h-1zM836 194h1v1h-1zM836 197h1v1h-1zM837 193h1v1h-1zM837 194h1v1h-1zM838 192h1v1h-1zM838 193h1v1h-1zM839 191h1v1h-1zM839 192h1v1h-1zM840 190h1v1h-1zM840 192h1v1h-1zM840 195h1v1h-1zM840 196h1v1h-1zM841 195h1v1h-1zM841 196h1v1h-1zM841 197h1v1h-1zM842 191h1v1h-1zM842 196h1v1h-1zM842 197h1v1h-1zM843 191h1v1h-1zM843 193h1v1h-1zM844 184h1v1h-1zM844 185h1v1h-1zM844 187h1v1h-1zM844 188h1v1h-1zM845 182h1v1h-1zM845 184h1v1h-1zM845 188h1v1h-1zM846 182h1v1h-1zM846 184h1v1h-1zM846 189h1v1h-1zM847 188h1v1h-1zM847 192h1v1h-1zM848 188h1v1h-1zM848 189h1v1h-1zM848 192h1v1h-1zM849 187h1v1h-1zM849 188h1v1h-1zM849 191h1v1h-1zM849 194h1v1h-1zM850 190h1v1h-1zM850 193h1v1h-1zM850 196h1v1h-1zM851 190h1v1h-1zM851 191h1v1h-1zM851 195h1v1h-1zM851 196h1v1h-1zM852 191h1v1h-1zM852 193h1v1h-1zM852 194h1v1h-1zM852 197h1v1h-1zM853 190h1v1h-1zM853 192h1v1h-1zM853 195h1v1h-1zM853 198h1v1h-1zM854 193h1v1h-1zM854 195h1v1h-1zM854 198h1v1h-1zM855 192h1v1h-1zM855 193h1v1h-1zM855 195h1v1h-1zM855 198h1v1h-1zM856 191h1v1h-1zM856 193h1v1h-1zM856 195h1v1h-1zM857 190h1v1h-1zM857 195h1v1h-1zM858 188h1v1h-1zM858 191h1v1h-1zM859 189h1v1h-1zM859 192h1v1h-1zM859 194h1v1h-1zM859 195h1v1h-1zM859 196h1v1h-1zM860 186h1v1h-1zM860 189h1v1h-1zM860 192h1v1h-1zM860 194h1v1h-1zM860 195h1v1h-1zM860 197h1v1h-1zM861 185h1v1h-1zM861 189h1v1h-1zM861 190h1v1h-1zM861 192h1v1h-1zM862 189h1v1h-1zM862 190h1v1h-1zM862 192h1v1h-1zM863 189h1v1h-1zM863 190h1v1h-1zM864 190h1v1h-1zM864 191h1v1h-1zM865 187h1v1h-1zM865 189h1v1h-1zM865 192h1v1h-1zM866 185h1v1h-1zM866 189h1v1h-1zM866 191h1v1h-1zM867 188h1v1h-1zM867 189h1v1h-1zM867 191h1v1h-1zM868 189h1v1h-1zM868 190h1v1h-1zM868 194h1v1h-1zM869 188h1v1h-1zM869 189h1v1h-1zM869 192h1v1h-1zM869 193h1v1h-1zM870 192h1v1h-1zM870 195h1v1h-1zM870 196h1v1h-1zM871 190h1v1h-1zM871 192h1v1h-1zM871 194h1v1h-1zM871 197h1v1h-1zM872 190h1v1h-1zM872 195h1v1h-1zM872 196h1v1h-1zM873 189h1v1h-1zM873 196h1v1h-1zM874 194h1v1h-1zM874 197h1v1h-1zM874 203h1v1h-1zM875 189h1v1h-1zM875 190h1v1h-1zM875 195h1v1h-1zM875 196h1v1h-1zM876 194h1v1h-1zM876 195h1v1h-1zM876 196h1v1h-1zM877 190h1v1h-1zM877 195h1v1h-1zM877 197h1v1h-1zM877 198h1v1h-1zM878 190h1v1h-1zM878 194h1v1h-1zM878 195h1v1h-1zM878 198h1v1h-1zM946 198h1v1h-1zM947 196h1v1h-1zM947 198h1v1h-1zM947 203h1v1h-1zM948 197h1v1h-1zM948 202h1v1h-1zM949 199h1v1h-1zM949 200h1v1h-1zM950 201h1v1h-1zM950 204h1v1h-1zM951 203h1v1h-1zM951 207h1v1h-1zM951 209h1v1h-1zM952 205h1v1h-1zM952 206h1v1h-1zM952 210h1v1h-1zM953 209h1v1h-1zM953 211h1v1h-1zM953 214h1v1h-1zM954 211h1v1h-1zM954 213h1v1h-1zM954 214h1v1h-1zM955 212h1v1h-1zM955 214h1v1h-1zM956 218h1v1h-1zM956 219h1v1h-1zM957 218h1v1h-1zM957 220h1v1h-1zM957 222h1v1h-1zM958 221h1v1h-1zM958 222h1v1h-1zM959 217h1v1h-1zM959 222h1v1h-1zM960 222h1v1h-1zM960 224h1v1h-1zM960 225h1v1h-1zM961 224h1v1h-1zM961 230h1v1h-1zM962 226h1v1h-1zM962 227h1v1h-1zM962 230h1v1h-1zM962 231h1v1h-1zM963 230h1v1h-1zM964 230h1v1h-1zM964 231h1v1h-1zM965 230h1v1h-1zM965 231h1v1h-1zM965 233h1v1h-1zM965 234h1v1h-1zM966 228h1v1h-1zM966 230h1v1h-1zM966 231h1v1h-1zM966 232h1v1h-1zM966 233h1v1h-1zM966 235h1v1h-1zM966 236h1v1h-1zM966 237h1v1h-1zM966 238h1v1h-1zM966 239h1v1h-1zM966 240h1v1h-1zM967 231h1v1h-1zM968 229h1v1h-1zM968 231h1v1h-1zM968 232h1v1h-1zM969 228h1v1h-1zM969 229h1v1h-1zM969 230h1v1h-1zM970 226h1v1h-1zM971 224h1v1h-1zM971 229h1v1h-1zM972 226h1v1h-1zM972 228h1v1h-1zM973 225h1v1h-1zM973 227h1v1h-1zM973 229h1v1h-1zM974 226h1v1h-1zM974 228h1v1h-1zM974 229h1v1h-1zM975 227h1v1h-1zM975 230h1v1h-1zM976 230h1v1h-1zM977 232h1v1h-1zM977 233h1v1h-1zM978 236h1v1h-1zM979 231h1v1h-1zM979 232h1v1h-1zM979 236h1v1h-1zM980 232h1v1h-1zM984 257h1v1h-1zM984 259h1v1h-1zM984 261h1v1h-1zM984 263h1v1h-1zM984 264h1v1h-1zM984 266h1v1h-1zM984 267h1v1h-1zM984 268h1v1h-1zM984 269h1v1h-1zM984 272h1v1h-1zM984 274h1v1h-1zM986 257h1v1h-1zM986 258h1v1h-1zM986 259h1v1h-1zM986 262h1v1h-1zM986 264h1v1h-1zM986 265h1v1h-1zM986 267h1v1h-1zM986 268h1v1h-1zM986 269h1v1h-1zM986 270h1v1h-1zM986 272h1v1h-1zM986 274h1v1h-1zM990 240h1v1h-1zM990 245h1v1h-1zM991 222h1v1h-1zM991 227h1v1h-1zM991 229h1v1h-1zM991 245h1v1h-1zM992 221h1v1h-1zM992 227h1v1h-1zM993 220h1v1h-1zM993 222h1v1h-1zM994 223h1v1h-1zM995 219h1v1h-1zM995 222h1v1h-1zM996 219h1v1h-1zM996 220h1v1h-1zM997 221h1v1h-1zM997 222h1v1h-1zM998 222h1v1h-1zM998 224h1v1h-1zM998 226h1v1h-1zM999 224h1v1h-1zM999 228h1v1h-1zM999 234h1v1h-1zM1003 247h1v1h-1zM1003 251h1v1h-1zM1004 249h1v1h-1zM1004 252h1v1h-1z" fill="#000" shape-rendering="crispEdges"/>
</g>
<g>
<rect x="175" y="471" width="225" height="39" fill="#990000"/>
<g fill="#fff" stroke="none">
<path d="M192.4 480 C192.6 475.6 196.4 472.2 202 472.2 C207.6 472.2 211.4 475.6 211.6 480 Z M194.6 478.9 L209.4 478.9 C208.6 476 205.8 474.2 202 474.2 C198.2 474.2 195.4 476 194.6 478.9Z" fill-rule="evenodd"/>
<rect x="190.8" y="478.8" width="22.2" height="2.5"/>
<rect x="191.3" y="481" width="3.4" height="20.5"/>
<rect x="200" y="481" width="3.3" height="20.5"/>
<rect x="209" y="481" width="3.7" height="20.5"/>
<rect x="195.9" y="482.8" width="3" height="16.6" fill="none" stroke="#b54040" stroke-width="0.6"/>
<rect x="204.5" y="482.8" width="3" height="16.6" fill="none" stroke="#b54040" stroke-width="0.6"/>
<path d="M191.3 500.7 L212.7 500.7 L214 504.7 L190 504.7Z"/>
<circle cx="215.7" cy="502.9" r="0.8" fill="#e9b0b0"/>
</g>
<text x="222" y="477.6" font-family="Liberation Serif, DejaVu Serif, serif" font-weight="bold" font-size="6.6" textLength="81" lengthAdjust="spacing" style="fill:#fff">THE UNIVERSITY OF</text>
<text x="216.6" y="504.9" font-family="Liberation Serif, DejaVu Serif, serif" font-size="39.4" textLength="169" lengthAdjust="spacingAndGlyphs" style="fill:#fff" stroke="#fff" stroke-width="0.7">GEORGIA</text>
</g>
<g fill="#000" shape-rendering="crispEdges">
<rect x="175" y="72" width="869" height="1"/>
<rect x="175" y="510" width="869" height="1"/>
<rect x="175" y="72" width="1" height="399"/><rect x="1043" y="72" width="1" height="439"/>
</g>
<g fill="#000" shape-rendering="crispEdges">
<rect x="170" y="72" width="5" height="1"/>
<rect x="170" y="132" width="5" height="1"/>
<rect x="170" y="192" width="5" height="1"/>
<rect x="170" y="253" width="5" height="1"/>
<rect x="170" y="313" width="5" height="1"/>
<rect x="170" y="373" width="5" height="1"/>
<rect x="170" y="434" width="5" height="1"/>
<rect x="170" y="494" width="5" height="1"/>
<rect x="247" y="511" width="1" height="5"/>
<rect x="345" y="511" width="1" height="5"/>
<rect x="444" y="511" width="1" height="5"/>
<rect x="542" y="511" width="1" height="5"/>
<rect x="641" y="511" width="1" height="5"/>
<rect x="739" y="511" width="1" height="5"/>
<rect x="838" y="511" width="1" height="5"/>
<rect x="936" y="511" width="1" height="5"/>
<rect x="1035" y="511" width="1" height="5"/>
<rect x="1120" y="73" width="5" height="1"/>
<rect x="1120" y="145" width="5" height="1"/>
<rect x="1120" y="218" width="5" height="1"/>
<rect x="1120" y="290" width="5" height="1"/>
<rect x="1120" y="362" width="5" height="1"/>
<rect x="1120" y="435" width="5" height="1"/>
<rect x="1120" y="507" width="5" height="1"/>
</g>
<text x="165.8" y="78" font-family="DejaVu Sans, Liberation Sans, sans-serif" font-size="13.89" text-anchor="end">0</text>
<text x="165.8" y="138" font-family="DejaVu Sans, Liberation Sans, sans-serif" font-size="13.89" text-anchor="end">20</text>
<text x="165.8" y="198" font-family="DejaVu Sans, Liberation Sans, sans-serif" font-size="13.89" text-anchor="end">40</text>
<text x="165.8" y="258" font-family="DejaVu Sans, Liberation Sans, sans-serif" font-size="13.89" text-anchor="end">60</text>
<text x="165.8" y="318.5" font-family="DejaVu Sans, Liberation Sans, sans-serif" font-size="13.89" text-anchor="end">80</text>
<text x="165.8" y="379" font-family="DejaVu Sans, Liberation Sans, sans-serif" font-size="13.89" text-anchor="end">100</text>
<text x="165.8" y="439" font-family="DejaVu Sans, Liberation Sans, sans-serif" font-size="13.89" text-anchor="end">120</text>
<text x="165.8" y="500" font-family="DejaVu Sans, Liberation Sans, sans-serif" font-size="13.89" text-anchor="end">140</text>
<text transform="translate(246.1 531.6) rotate(-45)" x="0" y="2.9" font-family="DejaVu Sans, Liberation Sans, sans-serif" font-size="8.4" text-anchor="middle" stroke="#000" stroke-width="0.22">10/26</text>
<text transform="translate(344.6 531.6) rotate(-45)" x="0" y="2.9" font-family="DejaVu Sans, Liberation Sans, sans-serif" font-size="8.4" text-anchor="middle" stroke="#000" stroke-width="0.22">10/29</text>
<text transform="translate(443.1 531.6) rotate(-45)" x="0" y="2.9" font-family="DejaVu Sans, Liberation Sans, sans-serif" font-size="8.4" text-anchor="middle" stroke="#000" stroke-width="0.22">10/31</text>
<text transform="translate(541.6 531.6) rotate(-45)" x="0" y="2.9" font-family="DejaVu Sans, Liberation Sans, sans-serif" font-size="8.4" text-anchor="middle" stroke="#000" stroke-width="0.22">11/03</text>
<text transform="translate(640.1 531.6) rotate(-45)" x="0" y="2.9" font-family="DejaVu Sans, Liberation Sans, sans-serif" font-size="8.4" text-anchor="middle" stroke="#000" stroke-width="0.22">11/05</text>
<text transform="translate(738.6 531.6) rotate(-45)" x="0" y="2.9" font-family="DejaVu Sans, Liberation Sans, sans-serif" font-size="8.4" text-anchor="middle" stroke="#000" stroke-width="0.22">11/08</text>
<text transform="translate(837.1 531.6) rotate(-45)" x="0" y="2.9" font-family="DejaVu Sans, Liberation Sans, sans-serif" font-size="8.4" text-anchor="middle" stroke="#000" stroke-width="0.22">11/10</text>
<text transform="translate(935.6 531.6) rotate(-45)" x="0" y="2.9" font-family="DejaVu Sans, Liberation Sans, sans-serif" font-size="8.4" text-anchor="middle" stroke="#000" stroke-width="0.22">11/13</text>
<text transform="translate(1034.1 531.6) rotate(-45)" x="0" y="2.9" font-family="DejaVu Sans, Liberation Sans, sans-serif" font-size="8.4" text-anchor="middle" stroke="#000" stroke-width="0.22">11/15</text>
<text x="1129.1" y="79" font-family="DejaVu Sans, Liberation Sans, sans-serif" font-size="13.89">1550</text>
<text x="1129.1" y="151" font-family="DejaVu Sans, Liberation Sans, sans-serif" font-size="13.89">1548</text>
<text x="1129.1" y="223" font-family="DejaVu Sans, Liberation Sans, sans-serif" font-size="13.89">1546</text>
<text x="1129.1" y="296" font-family="DejaVu Sans, Liberation Sans, sans-serif" font-size="13.89">1544</text>
<text x="1129.1" y="368" font-family="DejaVu Sans, Liberation Sans, sans-serif" font-size="13.89">1542</text>
<text x="1129.1" y="440" font-family="DejaVu Sans, Liberation Sans, sans-serif" font-size="13.89">1540</text>
<text x="1129.1" y="513" font-family="DejaVu Sans, Liberation Sans, sans-serif" font-size="13.89">1538</text>
<rect x="1097.5" y="72.5" width="22" height="438" fill="url(#gCB)" stroke="#000" stroke-width="1.1"/>
<text transform="translate(1180.2 293) rotate(-90)" font-family="DejaVu Sans, Liberation Sans, sans-serif" font-size="13.89" text-anchor="middle">(m/s)</text>
<text x="609.5" y="562.6" font-family="DejaVu Sans, Liberation Sans, sans-serif" font-size="16.67" text-anchor="middle">Date</text>
<text transform="translate(129.2 292) rotate(-90)" font-family="DejaVu Sans, Liberation Sans, sans-serif" font-size="13.89" text-anchor="middle">Depth (m)</text>
<text x="609" y="42.9" font-family="DejaVu Sans, Liberation Sans, sans-serif" font-size="16.67" text-anchor="middle">franklin 2024-10-25 to 2024-11-14</text>
<text x="612" y="63.4" font-family="DejaVu Sans, Liberation Sans, sans-serif" font-size="16.67" text-anchor="middle">Sound Velocity (m/s)</text>
</svg></body></html>
